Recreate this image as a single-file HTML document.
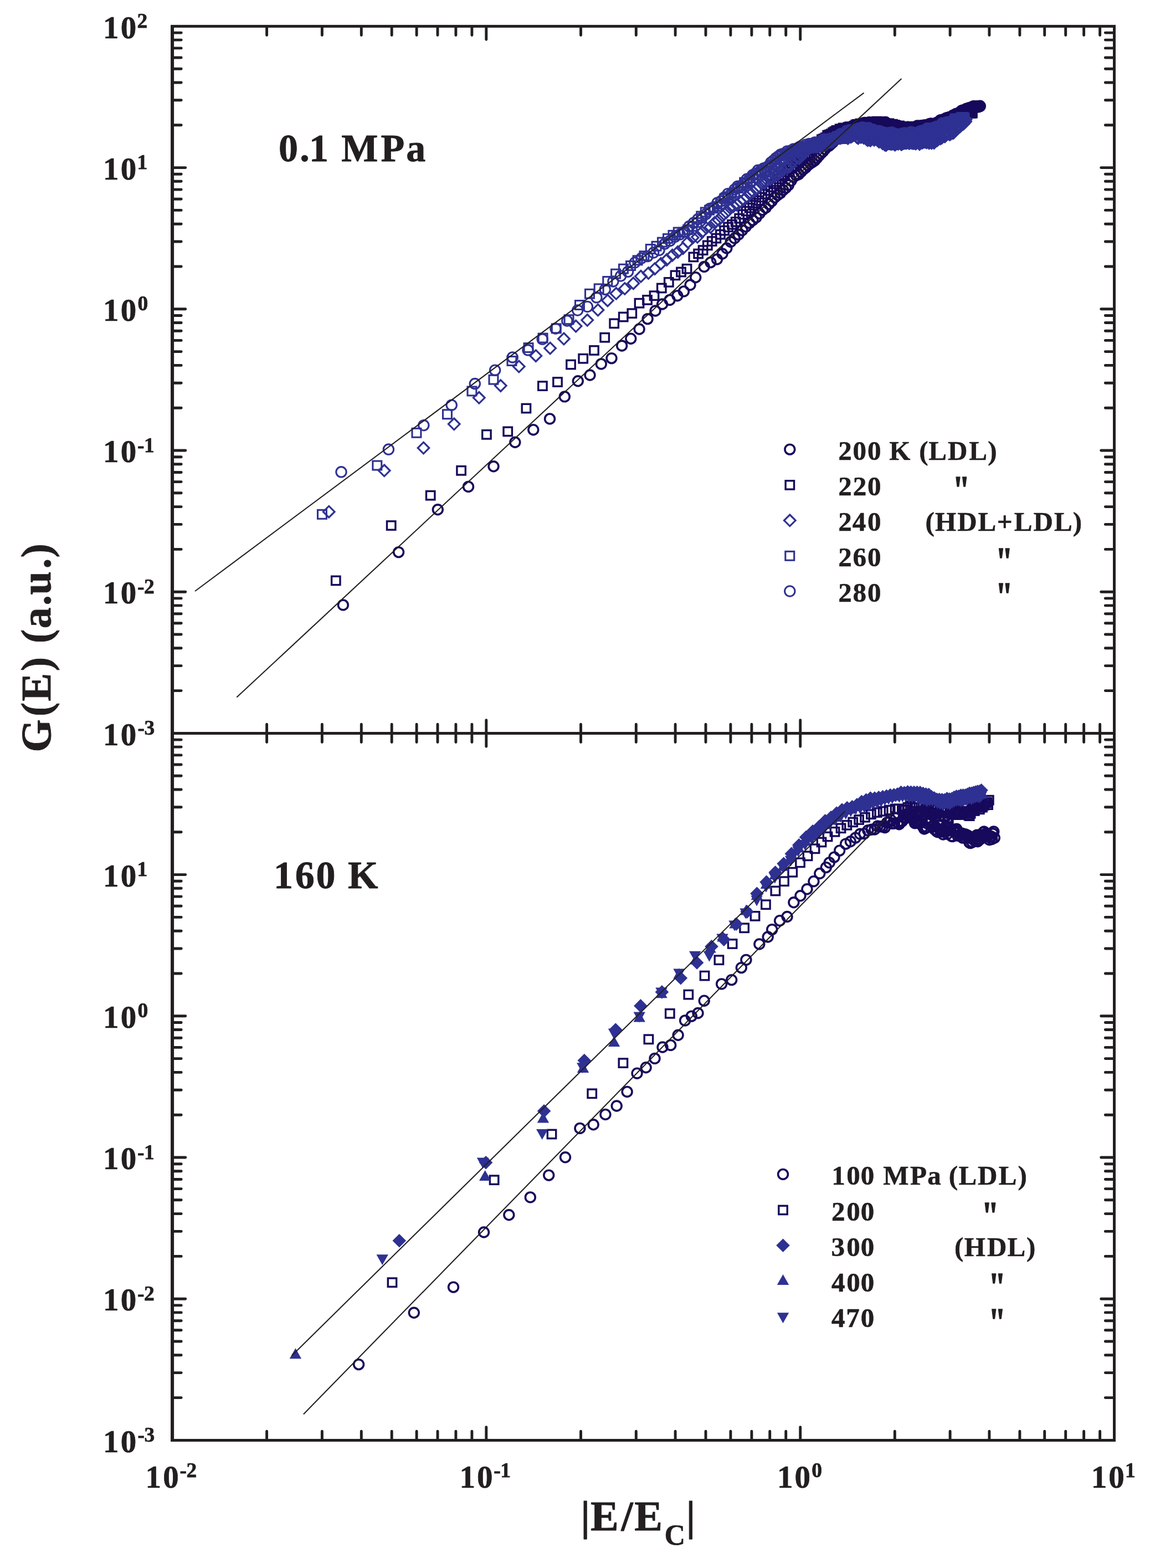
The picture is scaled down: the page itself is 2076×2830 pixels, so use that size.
<!DOCTYPE html>
<html lang="en"><head><meta charset="utf-8"><title>G(E) vs |E/Ec|</title>
<style>html,body{margin:0;padding:0;background:#fff}svg{display:block}text{font-family:'Liberation Serif',serif;font-weight:bold;fill:#231f20;stroke:#231f20;stroke-linejoin:round}</style></head><body>
<svg width="2076" height="2830" viewBox="0 0 2076 2830">
<rect width="2076" height="2830" fill="#fff"/>
<g id="series-top">
<g fill="none" stroke="#17095b" stroke-width="3.6">
<circle cx="619.4" cy="1091.9" r="8.9"/><circle cx="719.6" cy="996.6" r="8.9"/><circle cx="790.3" cy="919.8" r="8.9"/><circle cx="845.5" cy="878.4" r="8.9"/><circle cx="891" cy="841.8" r="8.9"/><circle cx="929.8" cy="798.2" r="8.9"/><circle cx="962.8" cy="775.7" r="8.9"/><circle cx="992.5" cy="755.9" r="8.9"/><circle cx="1019.3" cy="715.9" r="8.9"/><circle cx="1043.3" cy="687.8" r="8.9"/><circle cx="1065" cy="677" r="8.9"/><circle cx="1085.3" cy="656.9" r="8.9"/><circle cx="1104" cy="646.6" r="8.9"/><circle cx="1122.6" cy="624" r="8.9"/><circle cx="1138.8" cy="611.2" r="8.9"/><circle cx="1154.1" cy="594" r="8.9"/><circle cx="1169.1" cy="575.6" r="8.9"/><circle cx="1183" cy="561" r="8.9"/><circle cx="1195.6" cy="549" r="8.9"/><circle cx="1209" cy="541.4" r="8.9"/><circle cx="1222.8" cy="533.7" r="8.9"/><circle cx="1234.4" cy="525.9" r="8.9"/><circle cx="1246" cy="514.3" r="8.9"/><circle cx="1255.7" cy="500.7" r="8.9"/><circle cx="1271.2" cy="481.4" r="8.9"/><circle cx="1282.8" cy="473.6" r="8.9"/><circle cx="1294.4" cy="468" r="8.9"/><circle cx="1304" cy="458" r="8.9"/><circle cx="1311.8" cy="448" r="8.9"/><circle cx="1319.1" cy="436.5" r="8.9"/><circle cx="1326.2" cy="429.9" r="8.9"/><circle cx="1333.1" cy="423.5" r="8.9"/><circle cx="1339.9" cy="415.6" r="8.9"/><circle cx="1346.4" cy="409.1" r="8.9"/><circle cx="1352.8" cy="402.6" r="8.9"/><circle cx="1359" cy="397.5" r="8.9"/><circle cx="1365.1" cy="392.5" r="8.9"/><circle cx="1371" cy="385.4" r="8.9"/><circle cx="1376.8" cy="379" r="8.9"/><circle cx="1382.4" cy="375" r="8.9"/><circle cx="1387.9" cy="368.4" r="8.9"/><circle cx="1393.3" cy="363.1" r="8.9"/><circle cx="1398.6" cy="356.5" r="8.9"/><circle cx="1403.8" cy="352.2" r="8.9"/><circle cx="1408.8" cy="348.6" r="8.9"/><circle cx="1413.8" cy="343.1" r="8.9"/><circle cx="1418.6" cy="339.1" r="8.9"/><circle cx="1423.4" cy="334.1" r="8.9"/><circle cx="1428.1" cy="326.2" r="8.9"/><circle cx="1432.7" cy="319.5" r="8.9"/><circle cx="1437.2" cy="316.5" r="8.9"/><circle cx="1441.6" cy="314.7" r="8.9"/><circle cx="1446" cy="310.3" r="8.9"/><circle cx="1450.2" cy="306" r="8.9"/><circle cx="1454.4" cy="302.8" r="8.9"/><circle cx="1458.6" cy="298.3" r="8.9"/><circle cx="1462.6" cy="295.1" r="8.9"/><circle cx="1466.6" cy="292.6" r="8.9"/><circle cx="1470.6" cy="289.9" r="8.9"/><circle cx="1474.4" cy="285.7" r="8.9"/><circle cx="1478.2" cy="281.2" r="8.9"/><circle cx="1482" cy="276.9" r="8.9"/><circle cx="1485.7" cy="273.5" r="8.9"/><circle cx="1489.3" cy="269.3" r="8.9"/><circle cx="1492.9" cy="264.7" r="8.9"/><circle cx="1496.4" cy="263.4" r="8.9"/><circle cx="1499.9" cy="260.1" r="8.9"/><circle cx="1503.4" cy="257" r="8.9"/><circle cx="1506.8" cy="252.4" r="8.9"/><circle cx="1510.1" cy="251.1" r="8.9"/><circle cx="1513.4" cy="248.3" r="8.9"/><circle cx="1516.7" cy="243.4" r="8.9"/><circle cx="1519.9" cy="240.7" r="8.9"/><circle cx="1523" cy="239.4" r="8.9"/><circle cx="1526.2" cy="237.6" r="8.9"/><circle cx="1529.3" cy="236.3" r="8.9"/><circle cx="1532.3" cy="232.9" r="8.9"/><circle cx="1535.3" cy="231.4" r="8.9"/><circle cx="1538.3" cy="229.2" r="8.9"/><circle cx="1541.3" cy="227.3" r="8.9"/><circle cx="1544.2" cy="226.9" r="8.9"/><circle cx="1547" cy="227.4" r="8.9"/><circle cx="1549.9" cy="227.2" r="8.9"/><circle cx="1552.7" cy="225.7" r="8.9"/><circle cx="1555.5" cy="224.9" r="8.9"/><circle cx="1558.2" cy="222.3" r="8.9"/><circle cx="1560.9" cy="221.5" r="8.9"/><circle cx="1563.6" cy="222.6" r="8.9"/><circle cx="1566.3" cy="221.8" r="8.9"/><circle cx="1568.9" cy="220.6" r="8.9"/><circle cx="1571.5" cy="221.1" r="8.9"/><circle cx="1574.1" cy="221.8" r="8.9"/><circle cx="1576.6" cy="222" r="8.9"/><circle cx="1579.2" cy="221" r="8.9"/><circle cx="1581.7" cy="220.6" r="8.9"/><circle cx="1584.1" cy="220.6" r="8.9"/><circle cx="1586.6" cy="221.4" r="8.9"/><circle cx="1589" cy="221.2" r="8.9"/><circle cx="1591.4" cy="221.1" r="8.9"/><circle cx="1593.8" cy="221.7" r="8.9"/><circle cx="1596.1" cy="220.7" r="8.9"/><circle cx="1598.5" cy="220.5" r="8.9"/><circle cx="1600.8" cy="222.9" r="8.9"/><circle cx="1603" cy="225.3" r="8.9"/><circle cx="1605.3" cy="225.5" r="8.9"/><circle cx="1607.6" cy="225.1" r="8.9"/><circle cx="1609.8" cy="224.4" r="8.9"/><circle cx="1612" cy="225.5" r="8.9"/><circle cx="1614.2" cy="227.8" r="8.9"/><circle cx="1616.3" cy="228.5" r="8.9"/><circle cx="1618.5" cy="228.2" r="8.9"/><circle cx="1620.6" cy="229.4" r="8.9"/><circle cx="1622.7" cy="228" r="8.9"/><circle cx="1624.8" cy="228.5" r="8.9"/><circle cx="1626.9" cy="230.4" r="8.9"/><circle cx="1629" cy="230.3" r="8.9"/><circle cx="1631" cy="230" r="8.9"/><circle cx="1633" cy="229.4" r="8.9"/><circle cx="1635" cy="230.3" r="8.9"/><circle cx="1637" cy="232" r="8.9"/><circle cx="1639" cy="229.3" r="8.9"/><circle cx="1641" cy="230.6" r="8.9"/><circle cx="1642.9" cy="231.2" r="8.9"/><circle cx="1644.8" cy="231.7" r="8.9"/><circle cx="1646.7" cy="231.3" r="8.9"/><circle cx="1648.6" cy="231.2" r="8.9"/><circle cx="1650.5" cy="230.1" r="8.9"/><circle cx="1652.4" cy="229.6" r="8.9"/><circle cx="1654.3" cy="228.7" r="8.9"/><circle cx="1656.1" cy="227" r="8.9"/><circle cx="1657.9" cy="228.8" r="8.9"/><circle cx="1659.7" cy="228.5" r="8.9"/><circle cx="1661.5" cy="227" r="8.9"/><circle cx="1663.3" cy="227.1" r="8.9"/><circle cx="1665.1" cy="227" r="8.9"/><circle cx="1666.9" cy="226.4" r="8.9"/><circle cx="1668.6" cy="225.9" r="8.9"/><circle cx="1670.4" cy="226.2" r="8.9"/><circle cx="1672.1" cy="226.4" r="8.9"/><circle cx="1673.8" cy="226.4" r="8.9"/><circle cx="1675.5" cy="225.8" r="8.9"/><circle cx="1677.2" cy="223.9" r="8.9"/><circle cx="1678.9" cy="223.6" r="8.9"/><circle cx="1680.5" cy="222.9" r="8.9"/><circle cx="1682.2" cy="223.6" r="8.9"/><circle cx="1683.8" cy="224.5" r="8.9"/><circle cx="1685.5" cy="224.5" r="8.9"/><circle cx="1687.1" cy="224.2" r="8.9"/><circle cx="1688.7" cy="223.9" r="8.9"/><circle cx="1690.3" cy="221.7" r="8.9"/><circle cx="1691.9" cy="222.2" r="8.9"/><circle cx="1693.5" cy="221.6" r="8.9"/><circle cx="1695.1" cy="219.4" r="8.9"/><circle cx="1696.6" cy="217.8" r="8.9"/><circle cx="1698.2" cy="216.8" r="8.9"/><circle cx="1699.7" cy="218.2" r="8.9"/><circle cx="1701.3" cy="217" r="8.9"/><circle cx="1702.8" cy="215.7" r="8.9"/><circle cx="1704.3" cy="216.2" r="8.9"/><circle cx="1705.8" cy="215.4" r="8.9"/><circle cx="1707.3" cy="213.8" r="8.9"/><circle cx="1708.8" cy="213" r="8.9"/><circle cx="1710.3" cy="213.3" r="8.9"/><circle cx="1711.7" cy="212.2" r="8.9"/><circle cx="1713.2" cy="211.6" r="8.9"/><circle cx="1714.6" cy="212.2" r="8.9"/><circle cx="1716.1" cy="211.5" r="8.9"/><circle cx="1717.5" cy="210.4" r="8.9"/><circle cx="1718.9" cy="210" r="8.9"/><circle cx="1720.4" cy="208.3" r="8.9"/><circle cx="1721.8" cy="208.1" r="8.9"/><circle cx="1723.2" cy="207.8" r="8.9"/><circle cx="1724.6" cy="206.6" r="8.9"/><circle cx="1725.9" cy="205.4" r="8.9"/><circle cx="1727.3" cy="206.5" r="8.9"/><circle cx="1728.7" cy="205.7" r="8.9"/><circle cx="1730.1" cy="204.1" r="8.9"/><circle cx="1731.4" cy="203.9" r="8.9"/><circle cx="1732.8" cy="204" r="8.9"/><circle cx="1734.1" cy="201.7" r="8.9"/><circle cx="1735.4" cy="200.2" r="8.9"/><circle cx="1736.8" cy="199.4" r="8.9"/><circle cx="1738.1" cy="200" r="8.9"/><circle cx="1739.4" cy="198.6" r="8.9"/><circle cx="1740.7" cy="198.9" r="8.9"/><circle cx="1742" cy="198.6" r="8.9"/><circle cx="1743.3" cy="197.8" r="8.9"/><circle cx="1744.6" cy="196.2" r="8.9"/><circle cx="1745.8" cy="197.1" r="8.9"/><circle cx="1747.1" cy="197" r="8.9"/><circle cx="1748.4" cy="196.1" r="8.9"/><circle cx="1749.6" cy="194.8" r="8.9"/><circle cx="1750.9" cy="194.9" r="8.9"/><circle cx="1752.1" cy="194.2" r="8.9"/><circle cx="1753.4" cy="194.1" r="8.9"/><circle cx="1754.6" cy="193.3" r="8.9"/><circle cx="1755.8" cy="193.4" r="8.9"/><circle cx="1757.1" cy="191.9" r="8.9"/><circle cx="1758.3" cy="191.6" r="8.9"/><circle cx="1759.5" cy="192.7" r="8.9"/><circle cx="1760.7" cy="193.1" r="8.9"/><circle cx="1761.9" cy="192.1" r="8.9"/><circle cx="1763.1" cy="192.7" r="8.9"/><circle cx="1764.3" cy="191.8" r="8.9"/><circle cx="1765.4" cy="192.7" r="8.9"/><circle cx="1766.6" cy="192.7" r="8.9"/><circle cx="1767.8" cy="192" r="8.9"/><circle cx="1768.9" cy="191.2" r="8.9"/><circle cx="1769.3" cy="191.6" r="8.9"/>
</g>
<g fill="none" stroke="#17095b" stroke-width="3.4">
<rect x="598.6" y="1040.2" width="15.4" height="15.4"/><rect x="698.5" y="940.8" width="15.4" height="15.4"/><rect x="769.5" y="886.5" width="15.4" height="15.4"/><rect x="824.9" y="841.6" width="15.4" height="15.4"/><rect x="870.7" y="776.6" width="15.4" height="15.4"/><rect x="909" y="771.1" width="15.4" height="15.4"/><rect x="942.2" y="729.3" width="15.4" height="15.4"/><rect x="971.7" y="688.9" width="15.4" height="15.4"/><rect x="998.8" y="681.8" width="15.4" height="15.4"/><rect x="1022.8" y="650.3" width="15.4" height="15.4"/><rect x="1045" y="639.5" width="15.4" height="15.4"/><rect x="1064.8" y="624.7" width="15.4" height="15.4"/><rect x="1084" y="601.5" width="15.4" height="15.4"/><rect x="1101" y="576.1" width="15.4" height="15.4"/><rect x="1117.5" y="564.3" width="15.4" height="15.4"/><rect x="1133.1" y="557.9" width="15.4" height="15.4"/><rect x="1146.3" y="539.5" width="15.4" height="15.4"/><rect x="1160.8" y="533.7" width="15.4" height="15.4"/><rect x="1173.3" y="526" width="15.4" height="15.4"/><rect x="1186.6" y="512.3" width="15.4" height="15.4"/><rect x="1199.6" y="501.7" width="15.4" height="15.4"/><rect x="1211.3" y="489.2" width="15.4" height="15.4"/><rect x="1221.8" y="483.3" width="15.4" height="15.4"/><rect x="1232.3" y="477.5" width="15.4" height="15.4"/><rect x="1244.1" y="456.2" width="15.4" height="15.4"/><rect x="1252.9" y="450.3" width="15.4" height="15.4"/><rect x="1261.4" y="443.9" width="15.4" height="15.4"/><rect x="1269.6" y="435.2" width="15.4" height="15.4"/><rect x="1277.5" y="427.8" width="15.4" height="15.4"/><rect x="1285.2" y="422.4" width="15.4" height="15.4"/><rect x="1292.7" y="415.5" width="15.4" height="15.4"/><rect x="1299.9" y="408.4" width="15.4" height="15.4"/><rect x="1306.9" y="402.2" width="15.4" height="15.4"/><rect x="1313.8" y="397.6" width="15.4" height="15.4"/><rect x="1320.4" y="392.7" width="15.4" height="15.4"/><rect x="1326.9" y="386.5" width="15.4" height="15.4"/><rect x="1333.2" y="379.2" width="15.4" height="15.4"/><rect x="1339.3" y="373.4" width="15.4" height="15.4"/><rect x="1345.3" y="367.5" width="15.4" height="15.4"/><rect x="1351.2" y="362.7" width="15.4" height="15.4"/><rect x="1356.9" y="358.8" width="15.4" height="15.4"/><rect x="1362.5" y="354.3" width="15.4" height="15.4"/><rect x="1368" y="348.4" width="15.4" height="15.4"/><rect x="1373.3" y="342.7" width="15.4" height="15.4"/><rect x="1378.6" y="336.4" width="15.4" height="15.4"/><rect x="1383.7" y="329.9" width="15.4" height="15.4"/><rect x="1388.7" y="324.1" width="15.4" height="15.4"/><rect x="1393.6" y="320.1" width="15.4" height="15.4"/><rect x="1398.5" y="315.2" width="15.4" height="15.4"/><rect x="1403.2" y="310.6" width="15.4" height="15.4"/><rect x="1407.8" y="307.6" width="15.4" height="15.4"/><rect x="1412.4" y="302.7" width="15.4" height="15.4"/><rect x="1416.9" y="298.2" width="15.4" height="15.4"/><rect x="1421.3" y="292.7" width="15.4" height="15.4"/><rect x="1425.6" y="287.1" width="15.4" height="15.4"/><rect x="1429.8" y="283.2" width="15.4" height="15.4"/><rect x="1434" y="278.6" width="15.4" height="15.4"/><rect x="1438.1" y="275.5" width="15.4" height="15.4"/><rect x="1442.1" y="273.7" width="15.4" height="15.4"/><rect x="1446.1" y="269.7" width="15.4" height="15.4"/><rect x="1450" y="264.1" width="15.4" height="15.4"/><rect x="1453.9" y="262.2" width="15.4" height="15.4"/><rect x="1457.6" y="259.6" width="15.4" height="15.4"/><rect x="1461.4" y="256.7" width="15.4" height="15.4"/><rect x="1465" y="254.3" width="15.4" height="15.4"/><rect x="1468.7" y="251.2" width="15.4" height="15.4"/><rect x="1472.2" y="248.4" width="15.4" height="15.4"/><rect x="1475.7" y="244.1" width="15.4" height="15.4"/><rect x="1479.2" y="242.7" width="15.4" height="15.4"/><rect x="1482.6" y="240.8" width="15.4" height="15.4"/><rect x="1486" y="236.4" width="15.4" height="15.4"/><rect x="1489.3" y="235.5" width="15.4" height="15.4"/><rect x="1492.6" y="234" width="15.4" height="15.4"/><rect x="1495.8" y="231.5" width="15.4" height="15.4"/><rect x="1499" y="229.6" width="15.4" height="15.4"/><rect x="1502.2" y="227.7" width="15.4" height="15.4"/><rect x="1505.3" y="227.5" width="15.4" height="15.4"/><rect x="1508.4" y="225.1" width="15.4" height="15.4"/><rect x="1511.4" y="225.2" width="15.4" height="15.4"/><rect x="1514.4" y="223.2" width="15.4" height="15.4"/><rect x="1517.4" y="223.8" width="15.4" height="15.4"/><rect x="1520.3" y="223.8" width="15.4" height="15.4"/><rect x="1523.2" y="221.9" width="15.4" height="15.4"/><rect x="1526.1" y="221" width="15.4" height="15.4"/><rect x="1528.9" y="221.6" width="15.4" height="15.4"/><rect x="1531.7" y="220.9" width="15.4" height="15.4"/><rect x="1534.5" y="219.4" width="15.4" height="15.4"/><rect x="1537.2" y="217.4" width="15.4" height="15.4"/><rect x="1539.9" y="216.6" width="15.4" height="15.4"/><rect x="1542.6" y="217.3" width="15.4" height="15.4"/><rect x="1545.2" y="215.4" width="15.4" height="15.4"/><rect x="1547.9" y="217.1" width="15.4" height="15.4"/><rect x="1550.4" y="215.2" width="15.4" height="15.4"/><rect x="1553" y="216.6" width="15.4" height="15.4"/><rect x="1555.5" y="214.9" width="15.4" height="15.4"/><rect x="1558.1" y="216.4" width="15.4" height="15.4"/><rect x="1560.5" y="216.1" width="15.4" height="15.4"/><rect x="1563" y="215" width="15.4" height="15.4"/><rect x="1565.4" y="214.4" width="15.4" height="15.4"/><rect x="1567.9" y="214.5" width="15.4" height="15.4"/><rect x="1570.2" y="214.1" width="15.4" height="15.4"/><rect x="1572.6" y="212.8" width="15.4" height="15.4"/><rect x="1575" y="211.5" width="15.4" height="15.4"/><rect x="1577.3" y="212" width="15.4" height="15.4"/><rect x="1579.6" y="213.8" width="15.4" height="15.4"/><rect x="1581.9" y="213.9" width="15.4" height="15.4"/><rect x="1584.1" y="212.2" width="15.4" height="15.4"/><rect x="1586.4" y="214.5" width="15.4" height="15.4"/><rect x="1588.6" y="215.6" width="15.4" height="15.4"/><rect x="1590.8" y="217.2" width="15.4" height="15.4"/><rect x="1592.9" y="215.4" width="15.4" height="15.4"/><rect x="1595.1" y="216.9" width="15.4" height="15.4"/><rect x="1597.2" y="215.2" width="15.4" height="15.4"/><rect x="1599.4" y="217" width="15.4" height="15.4"/><rect x="1601.5" y="216.7" width="15.4" height="15.4"/><rect x="1603.6" y="216.5" width="15.4" height="15.4"/><rect x="1605.6" y="219.3" width="15.4" height="15.4"/><rect x="1607.7" y="217.8" width="15.4" height="15.4"/><rect x="1609.7" y="218.9" width="15.4" height="15.4"/><rect x="1611.7" y="221" width="15.4" height="15.4"/><rect x="1613.7" y="219.8" width="15.4" height="15.4"/><rect x="1615.7" y="219.3" width="15.4" height="15.4"/><rect x="1617.7" y="221.9" width="15.4" height="15.4"/><rect x="1619.6" y="221.6" width="15.4" height="15.4"/><rect x="1621.6" y="222.8" width="15.4" height="15.4"/><rect x="1623.5" y="220.8" width="15.4" height="15.4"/><rect x="1625.4" y="221.4" width="15.4" height="15.4"/><rect x="1627.3" y="221.1" width="15.4" height="15.4"/><rect x="1629.2" y="223" width="15.4" height="15.4"/><rect x="1631" y="221.3" width="15.4" height="15.4"/><rect x="1632.9" y="224.1" width="15.4" height="15.4"/><rect x="1634.7" y="221.5" width="15.4" height="15.4"/><rect x="1636.6" y="223.2" width="15.4" height="15.4"/><rect x="1638.4" y="221" width="15.4" height="15.4"/><rect x="1640.2" y="220.8" width="15.4" height="15.4"/><rect x="1641.9" y="223.1" width="15.4" height="15.4"/><rect x="1643.7" y="221.4" width="15.4" height="15.4"/><rect x="1645.5" y="220.6" width="15.4" height="15.4"/><rect x="1647.2" y="222.3" width="15.4" height="15.4"/><rect x="1649" y="221.9" width="15.4" height="15.4"/><rect x="1650.7" y="220.2" width="15.4" height="15.4"/><rect x="1652.4" y="223.2" width="15.4" height="15.4"/><rect x="1654.1" y="221.2" width="15.4" height="15.4"/><rect x="1655.8" y="219.6" width="15.4" height="15.4"/><rect x="1657.4" y="220" width="15.4" height="15.4"/><rect x="1659.1" y="221.2" width="15.4" height="15.4"/><rect x="1660.8" y="222.2" width="15.4" height="15.4"/><rect x="1662.4" y="220.1" width="15.4" height="15.4"/><rect x="1664" y="219.9" width="15.4" height="15.4"/><rect x="1665.6" y="218.5" width="15.4" height="15.4"/><rect x="1667.3" y="219.4" width="15.4" height="15.4"/><rect x="1668.9" y="221" width="15.4" height="15.4"/><rect x="1670.4" y="221.6" width="15.4" height="15.4"/><rect x="1672" y="222.4" width="15.4" height="15.4"/><rect x="1673.6" y="221.9" width="15.4" height="15.4"/><rect x="1675.1" y="221.8" width="15.4" height="15.4"/><rect x="1676.7" y="220.9" width="15.4" height="15.4"/><rect x="1678.2" y="219.4" width="15.4" height="15.4"/><rect x="1679.8" y="217.5" width="15.4" height="15.4"/><rect x="1681.3" y="217.9" width="15.4" height="15.4"/><rect x="1682.8" y="216.6" width="15.4" height="15.4"/><rect x="1684.3" y="215" width="15.4" height="15.4"/><rect x="1685.8" y="215.2" width="15.4" height="15.4"/><rect x="1687.3" y="216.6" width="15.4" height="15.4"/><rect x="1688.7" y="214.4" width="15.4" height="15.4"/><rect x="1690.2" y="214.8" width="15.4" height="15.4"/><rect x="1691.7" y="214" width="15.4" height="15.4"/><rect x="1693.1" y="213.8" width="15.4" height="15.4"/><rect x="1694.5" y="212.1" width="15.4" height="15.4"/><rect x="1696" y="213.8" width="15.4" height="15.4"/><rect x="1697.4" y="211.9" width="15.4" height="15.4"/><rect x="1698.8" y="211.9" width="15.4" height="15.4"/><rect x="1700.2" y="211" width="15.4" height="15.4"/><rect x="1701.6" y="208.9" width="15.4" height="15.4"/><rect x="1703" y="209.4" width="15.4" height="15.4"/><rect x="1704.4" y="208" width="15.4" height="15.4"/><rect x="1705.8" y="206.8" width="15.4" height="15.4"/><rect x="1707.1" y="205.8" width="15.4" height="15.4"/><rect x="1708.5" y="205.5" width="15.4" height="15.4"/><rect x="1709.8" y="204.9" width="15.4" height="15.4"/><rect x="1711.2" y="206.1" width="15.4" height="15.4"/><rect x="1712.5" y="206" width="15.4" height="15.4"/><rect x="1713.9" y="207.2" width="15.4" height="15.4"/><rect x="1715.2" y="207.4" width="15.4" height="15.4"/><rect x="1716.5" y="207.6" width="15.4" height="15.4"/><rect x="1717.8" y="205" width="15.4" height="15.4"/><rect x="1719.1" y="204.1" width="15.4" height="15.4"/><rect x="1720.4" y="202.9" width="15.4" height="15.4"/><rect x="1721.7" y="203.2" width="15.4" height="15.4"/><rect x="1723" y="203.2" width="15.4" height="15.4"/><rect x="1724.3" y="203.6" width="15.4" height="15.4"/><rect x="1725.5" y="203.2" width="15.4" height="15.4"/><rect x="1726.8" y="201.5" width="15.4" height="15.4"/><rect x="1728" y="200.9" width="15.4" height="15.4"/><rect x="1729.3" y="200.8" width="15.4" height="15.4"/><rect x="1730.5" y="198.9" width="15.4" height="15.4"/><rect x="1731.8" y="197.9" width="15.4" height="15.4"/><rect x="1733" y="198.3" width="15.4" height="15.4"/><rect x="1734.2" y="197.4" width="15.4" height="15.4"/><rect x="1735.4" y="198.6" width="15.4" height="15.4"/><rect x="1736.7" y="197.6" width="15.4" height="15.4"/><rect x="1737.9" y="196.6" width="15.4" height="15.4"/><rect x="1739.1" y="196.2" width="15.4" height="15.4"/><rect x="1740.3" y="196.1" width="15.4" height="15.4"/><rect x="1741.5" y="195.9" width="15.4" height="15.4"/><rect x="1742.6" y="196.5" width="15.4" height="15.4"/><rect x="1743.8" y="196.6" width="15.4" height="15.4"/><rect x="1745" y="196.1" width="15.4" height="15.4"/><rect x="1746.2" y="196.6" width="15.4" height="15.4"/><rect x="1747.3" y="195.6" width="15.4" height="15.4"/><rect x="1747.7" y="196.4" width="15.4" height="15.4"/>
</g>
<g fill="none" stroke="#2e3192" stroke-width="3.2">
<path d="M593.7 913.4L604 923.7L593.7 934L583.4 923.7Z"/><path d="M693.7 839L704 849.3L693.7 859.6L683.4 849.3Z"/><path d="M764.5 798.2L774.8 808.5L764.5 818.8L754.2 808.5Z"/><path d="M819.7 755L830 765.3L819.7 775.6L809.4 765.3Z"/><path d="M864.8 707.5L875.1 717.8L864.8 728.1L854.5 717.8Z"/><path d="M903.8 685.8L914.1 696.1L903.8 706.4L893.5 696.1Z"/><path d="M936.8 651.2L947.1 661.5L936.8 671.8L926.5 661.5Z"/><path d="M967.3 631.9L977.6 642.2L967.3 652.5L957 642.2Z"/><path d="M993.1 618.2L1003.4 628.5L993.1 638.8L982.8 628.5Z"/><path d="M1017.9 601.2L1028.2 611.5L1017.9 621.8L1007.6 611.5Z"/><path d="M1039.6 578.3L1049.9 588.6L1039.6 598.9L1029.3 588.6Z"/><path d="M1060.2 567.5L1070.5 577.8L1060.2 588.1L1049.9 577.8Z"/><path d="M1079.4 549.2L1089.7 559.5L1079.4 569.8L1069.1 559.5Z"/><path d="M1096.9 532.1L1107.2 542.4L1096.9 552.7L1086.6 542.4Z"/><path d="M1112.3 519.5L1122.6 529.8L1112.3 540.1L1102 529.8Z"/><path d="M1127.8 510.7L1138.1 521L1127.8 531.3L1117.5 521Z"/><path d="M1143.3 501.1L1153.6 511.4L1143.3 521.7L1133 511.4Z"/><path d="M1156.9 488.5L1167.2 498.8L1156.9 509.1L1146.6 498.8Z"/><path d="M1170.5 482.7L1180.8 493L1170.5 503.3L1160.2 493Z"/><path d="M1182 474.9L1192.3 485.2L1182 495.5L1171.7 485.2Z"/><path d="M1193.1 465.6L1203.4 475.9L1193.1 486.2L1182.8 475.9Z"/><path d="M1203.6 458.6L1213.9 468.9L1203.6 479.2L1193.3 468.9Z"/><path d="M1213.8 450.3L1224.1 460.6L1213.8 470.9L1203.5 460.6Z"/><path d="M1223.5 444.6L1233.8 454.9L1223.5 465.2L1213.2 454.9Z"/><path d="M1232.9 437.9L1243.2 448.2L1232.9 458.5L1222.6 448.2Z"/><path d="M1241.9 426.9L1252.2 437.2L1241.9 447.5L1231.6 437.2Z"/><path d="M1250.6 418.6L1260.9 428.9L1250.6 439.2L1240.3 428.9Z"/><path d="M1259 417.5L1269.3 427.8L1259 438.1L1248.7 427.8Z"/><path d="M1267.2 408.5L1277.5 418.8L1267.2 429.1L1256.9 418.8Z"/><path d="M1275 401.1L1285.3 411.4L1275 421.7L1264.7 411.4Z"/><path d="M1282.7 399.8L1293 410.1L1282.7 420.4L1272.4 410.1Z"/><path d="M1290.1 391.4L1300.4 401.7L1290.1 412L1279.8 401.7Z"/><path d="M1297.2 386.9L1307.5 397.2L1297.2 407.5L1286.9 397.2Z"/><path d="M1304.2 378.9L1314.5 389.2L1304.2 399.5L1293.9 389.2Z"/><path d="M1311 373.5L1321.3 383.8L1311 394.1L1300.7 383.8Z"/><path d="M1317.6 364.6L1327.9 374.9L1317.6 385.2L1307.3 374.9Z"/><path d="M1324 362.1L1334.3 372.4L1324 382.7L1313.7 372.4Z"/><path d="M1330.3 359.6L1340.6 369.9L1330.3 380.2L1320 369.9Z"/><path d="M1336.4 353.4L1346.7 363.7L1336.4 374L1326.1 363.7Z"/><path d="M1342.4 349.9L1352.7 360.2L1342.4 370.5L1332.1 360.2Z"/><path d="M1348.2 345.3L1358.5 355.6L1348.2 365.9L1337.9 355.6Z"/><path d="M1353.9 337.2L1364.2 347.5L1353.9 357.8L1343.6 347.5Z"/><path d="M1359.5 336.1L1369.8 346.4L1359.5 356.7L1349.2 346.4Z"/><path d="M1364.9 331.8L1375.2 342.1L1364.9 352.4L1354.6 342.1Z"/><path d="M1370.2 325.9L1380.5 336.2L1370.2 346.5L1359.9 336.2Z"/><path d="M1375.4 319.7L1385.7 330L1375.4 340.3L1365.1 330Z"/><path d="M1380.5 320.2L1390.8 330.5L1380.5 340.8L1370.2 330.5Z"/><path d="M1385.5 315.2L1395.8 325.5L1385.5 335.8L1375.2 325.5Z"/><path d="M1390.4 312.6L1400.7 322.9L1390.4 333.2L1380.1 322.9Z"/><path d="M1395.2 310.2L1405.5 320.5L1395.2 330.8L1384.9 320.5Z"/><path d="M1399.9 306.4L1410.2 316.7L1399.9 327L1389.6 316.7Z"/><path d="M1404.6 304.3L1414.9 314.6L1404.6 324.9L1394.3 314.6Z"/><path d="M1409.1 298.4L1419.4 308.7L1409.1 319L1398.8 308.7Z"/><path d="M1413.5 296.9L1423.8 307.2L1413.5 317.5L1403.2 307.2Z"/><path d="M1417.9 292.3L1428.2 302.6L1417.9 312.9L1407.6 302.6Z"/><path d="M1422.2 291.8L1432.5 302.1L1422.2 312.4L1411.9 302.1Z"/><path d="M1426.4 289.3L1436.7 299.6L1426.4 309.9L1416.1 299.6Z"/><path d="M1430.6 282L1440.9 292.3L1430.6 302.6L1420.3 292.3Z"/><path d="M1434.7 277.9L1445 288.2L1434.7 298.5L1424.4 288.2Z"/><path d="M1438.7 274.6L1449 284.9L1438.7 295.2L1428.4 284.9Z"/><path d="M1442.6 275.7L1452.9 286L1442.6 296.3L1432.3 286Z"/><path d="M1446.5 270.6L1456.8 280.9L1446.5 291.2L1436.2 280.9Z"/><path d="M1450.4 267.9L1460.7 278.2L1450.4 288.5L1440.1 278.2Z"/><path d="M1454.1 262.9L1464.4 273.2L1454.1 283.5L1443.8 273.2Z"/><path d="M1457.9 260.4L1468.2 270.7L1457.9 281L1447.6 270.7Z"/><path d="M1461.5 256.8L1471.8 267.1L1461.5 277.4L1451.2 267.1Z"/><path d="M1465.1 255.1L1475.4 265.4L1465.1 275.7L1454.8 265.4Z"/><path d="M1468.7 255.1L1479 265.4L1468.7 275.7L1458.4 265.4Z"/><path d="M1472.2 254.3L1482.5 264.6L1472.2 274.9L1461.9 264.6Z"/><path d="M1475.6 255.1L1485.9 265.4L1475.6 275.7L1465.3 265.4Z"/><path d="M1479 253.3L1489.3 263.6L1479 273.9L1468.7 263.6Z"/><path d="M1482.4 253.3L1492.7 263.6L1482.4 273.9L1472.1 263.6Z"/><path d="M1485.7 252.2L1496 262.5L1485.7 272.8L1475.4 262.5Z"/><path d="M1489 251.8L1499.3 262.1L1489 272.4L1478.7 262.1Z"/><path d="M1492.2 249.1L1502.5 259.4L1492.2 269.7L1481.9 259.4Z"/><path d="M1495.4 244.5L1505.7 254.8L1495.4 265.1L1485.1 254.8Z"/><path d="M1498.5 246.1L1508.8 256.4L1498.5 266.7L1488.2 256.4Z"/><path d="M1501.6 245.9L1511.9 256.2L1501.6 266.5L1491.3 256.2Z"/><path d="M1504.7 244.3L1515 254.6L1504.7 264.9L1494.4 254.6Z"/><path d="M1507.7 240.7L1518 251L1507.7 261.3L1497.4 251Z"/><path d="M1510.7 239.8L1521 250.1L1510.7 260.4L1500.4 250.1Z"/><path d="M1513.7 236.6L1524 246.9L1513.7 257.2L1503.4 246.9Z"/><path d="M1516.6 239.1L1526.9 249.4L1516.6 259.7L1506.3 249.4Z"/><path d="M1519.5 238.1L1529.8 248.4L1519.5 258.7L1509.2 248.4Z"/><path d="M1522.4 236L1532.7 246.3L1522.4 256.6L1512.1 246.3Z"/><path d="M1525.2 233.8L1535.5 244.1L1525.2 254.4L1514.9 244.1Z"/><path d="M1528 237.6L1538.3 247.9L1528 258.2L1517.7 247.9Z"/><path d="M1530.7 239.4L1541 249.7L1530.7 260L1520.4 249.7Z"/><path d="M1533.4 234.4L1543.7 244.7L1533.4 255L1523.1 244.7Z"/><path d="M1536.1 236.9L1546.4 247.2L1536.1 257.5L1525.8 247.2Z"/><path d="M1538.8 235.2L1549.1 245.5L1538.8 255.8L1528.5 245.5Z"/><path d="M1541.4 233.3L1551.7 243.6L1541.4 253.9L1531.1 243.6Z"/><path d="M1544.1 234L1554.4 244.3L1544.1 254.6L1533.8 244.3Z"/><path d="M1546.6 237.3L1556.9 247.6L1546.6 257.9L1536.3 247.6Z"/><path d="M1549.2 239.1L1559.5 249.4L1549.2 259.7L1538.9 249.4Z"/><path d="M1551.7 235.1L1562 245.4L1551.7 255.7L1541.4 245.4Z"/><path d="M1554.2 237.5L1564.5 247.8L1554.2 258.1L1543.9 247.8Z"/><path d="M1556.7 235.2L1567 245.5L1556.7 255.8L1546.4 245.5Z"/><path d="M1559.2 238.7L1569.5 249L1559.2 259.3L1548.9 249Z"/><path d="M1561.6 237.8L1571.9 248.1L1561.6 258.4L1551.3 248.1Z"/><path d="M1564 241L1574.3 251.3L1564 261.6L1553.7 251.3Z"/><path d="M1566.4 242.8L1576.7 253.1L1566.4 263.4L1556.1 253.1Z"/><path d="M1568.8 240.8L1579.1 251.1L1568.8 261.4L1558.5 251.1Z"/><path d="M1571.1 243.5L1581.4 253.8L1571.1 264.1L1560.8 253.8Z"/><path d="M1573.4 240.8L1583.7 251.1L1573.4 261.4L1563.1 251.1Z"/><path d="M1575.7 239.2L1586 249.5L1575.7 259.8L1565.4 249.5Z"/><path d="M1578 242.3L1588.3 252.6L1578 262.9L1567.7 252.6Z"/><path d="M1580.2 240.4L1590.5 250.7L1580.2 261L1569.9 250.7Z"/><path d="M1582.5 241.3L1592.8 251.6L1582.5 261.9L1572.2 251.6Z"/><path d="M1584.7 243.4L1595 253.7L1584.7 264L1574.4 253.7Z"/><path d="M1586.9 245.7L1597.2 256L1586.9 266.3L1576.6 256Z"/><path d="M1589 244.2L1599.3 254.5L1589 264.8L1578.7 254.5Z"/><path d="M1591.2 243.6L1601.5 253.9L1591.2 264.2L1580.9 253.9Z"/><path d="M1593.3 248.7L1603.6 259L1593.3 269.3L1583 259Z"/><path d="M1595.4 247.5L1605.7 257.8L1595.4 268.1L1585.1 257.8Z"/><path d="M1597.5 251.2L1607.8 261.5L1597.5 271.8L1587.2 261.5Z"/><path d="M1599.6 251.7L1609.9 262L1599.6 272.3L1589.3 262Z"/><path d="M1601.7 248.8L1612 259.1L1601.7 269.4L1591.4 259.1Z"/><path d="M1603.7 248.4L1614 258.7L1603.7 269L1593.4 258.7Z"/><path d="M1605.8 248.6L1616.1 258.9L1605.8 269.2L1595.5 258.9Z"/><path d="M1607.8 249.4L1618.1 259.7L1607.8 270L1597.5 259.7Z"/><path d="M1609.8 249.3L1620.1 259.6L1609.8 269.9L1599.5 259.6Z"/><path d="M1611.8 249L1622.1 259.3L1611.8 269.6L1601.5 259.3Z"/><path d="M1613.7 249.3L1624 259.6L1613.7 269.9L1603.4 259.6Z"/><path d="M1615.7 251.2L1626 261.5L1615.7 271.8L1605.4 261.5Z"/><path d="M1617.6 249.2L1627.9 259.5L1617.6 269.8L1607.3 259.5Z"/><path d="M1619.5 248.1L1629.8 258.4L1619.5 268.7L1609.2 258.4Z"/><path d="M1621.4 249.5L1631.7 259.8L1621.4 270.1L1611.1 259.8Z"/><path d="M1623.3 247L1633.6 257.3L1623.3 267.6L1613 257.3Z"/><path d="M1625.2 246.6L1635.5 256.9L1625.2 267.2L1614.9 256.9Z"/><path d="M1627.1 250.4L1637.4 260.7L1627.1 271L1616.8 260.7Z"/><path d="M1628.9 248.8L1639.2 259.1L1628.9 269.4L1618.6 259.1Z"/><path d="M1630.7 248.5L1641 258.8L1630.7 269.1L1620.4 258.8Z"/><path d="M1632.6 245.2L1642.9 255.5L1632.6 265.8L1622.3 255.5Z"/><path d="M1634.4 246.5L1644.7 256.8L1634.4 267.1L1624.1 256.8Z"/><path d="M1636.2 247.9L1646.5 258.2L1636.2 268.5L1625.9 258.2Z"/><path d="M1637.9 244.9L1648.2 255.2L1637.9 265.5L1627.6 255.2Z"/><path d="M1639.7 247.5L1650 257.8L1639.7 268.1L1629.4 257.8Z"/><path d="M1641.5 248.3L1651.8 258.6L1641.5 268.9L1631.2 258.6Z"/><path d="M1643.2 245.2L1653.5 255.5L1643.2 265.8L1632.9 255.5Z"/><path d="M1644.9 247.5L1655.2 257.8L1644.9 268.1L1634.6 257.8Z"/><path d="M1646.7 247.3L1657 257.6L1646.7 267.9L1636.4 257.6Z"/><path d="M1648.4 248.4L1658.7 258.7L1648.4 269L1638.1 258.7Z"/><path d="M1650.1 246.8L1660.4 257.1L1650.1 267.4L1639.8 257.1Z"/><path d="M1651.7 248.3L1662 258.6L1651.7 268.9L1641.4 258.6Z"/><path d="M1653.4 249L1663.7 259.3L1653.4 269.6L1643.1 259.3Z"/><path d="M1655.1 244.9L1665.4 255.2L1655.1 265.5L1644.8 255.2Z"/><path d="M1656.7 243.9L1667 254.2L1656.7 264.5L1646.4 254.2Z"/><path d="M1658.4 247.1L1668.7 257.4L1658.4 267.7L1648.1 257.4Z"/><path d="M1660 249.8L1670.3 260.1L1660 270.4L1649.7 260.1Z"/><path d="M1661.6 246.4L1671.9 256.7L1661.6 267L1651.3 256.7Z"/><path d="M1663.2 246.5L1673.5 256.8L1663.2 267.1L1652.9 256.8Z"/><path d="M1664.8 247.3L1675.1 257.6L1664.8 267.9L1654.5 257.6Z"/><path d="M1666.4 246L1676.7 256.3L1666.4 266.6L1656.1 256.3Z"/><path d="M1668 245.8L1678.3 256.1L1668 266.4L1657.7 256.1Z"/><path d="M1669.5 245.4L1679.8 255.7L1669.5 266L1659.2 255.7Z"/><path d="M1671.1 245.6L1681.4 255.9L1671.1 266.2L1660.8 255.9Z"/><path d="M1672.6 246.9L1682.9 257.2L1672.6 267.5L1662.3 257.2Z"/><path d="M1674.2 245.6L1684.5 255.9L1674.2 266.2L1663.9 255.9Z"/><path d="M1675.7 245.6L1686 255.9L1675.7 266.2L1665.4 255.9Z"/><path d="M1677.2 247.9L1687.5 258.2L1677.2 268.5L1666.9 258.2Z"/><path d="M1678.7 244.2L1689 254.5L1678.7 264.8L1668.4 254.5Z"/><path d="M1680.2 246.2L1690.5 256.5L1680.2 266.8L1669.9 256.5Z"/><path d="M1681.7 247.8L1692 258.1L1681.7 268.4L1671.4 258.1Z"/><path d="M1683.2 245.7L1693.5 256L1683.2 266.3L1672.9 256Z"/><path d="M1684.7 244.6L1695 254.9L1684.7 265.2L1674.4 254.9Z"/><path d="M1686.1 247.6L1696.4 257.9L1686.1 268.2L1675.8 257.9Z"/><path d="M1687.6 244.3L1697.9 254.6L1687.6 264.9L1677.3 254.6Z"/><path d="M1689 242.2L1699.3 252.5L1689 262.8L1678.7 252.5Z"/><path d="M1690.5 242.3L1700.8 252.6L1690.5 262.9L1680.2 252.6Z"/><path d="M1691.9 243.2L1702.2 253.5L1691.9 263.8L1681.6 253.5Z"/><path d="M1693.3 239.3L1703.6 249.6L1693.3 259.9L1683 249.6Z"/><path d="M1694.7 238.7L1705 249L1694.7 259.3L1684.4 249Z"/><path d="M1696.1 237.9L1706.4 248.2L1696.1 258.5L1685.8 248.2Z"/><path d="M1697.5 239.9L1707.8 250.2L1697.5 260.5L1687.2 250.2Z"/><path d="M1698.9 237.4L1709.2 247.7L1698.9 258L1688.6 247.7Z"/><path d="M1700.3 238.5L1710.6 248.8L1700.3 259.1L1690 248.8Z"/><path d="M1701.7 234.1L1712 244.4L1701.7 254.7L1691.4 244.4Z"/><path d="M1703 233.5L1713.3 243.8L1703 254.1L1692.7 243.8Z"/><path d="M1704.4 234.8L1714.7 245.1L1704.4 255.4L1694.1 245.1Z"/><path d="M1705.7 236.2L1716 246.5L1705.7 256.8L1695.4 246.5Z"/><path d="M1707.1 233.7L1717.4 244L1707.1 254.3L1696.8 244Z"/><path d="M1708.4 231.2L1718.7 241.5L1708.4 251.8L1698.1 241.5Z"/><path d="M1709.7 229.5L1720 239.8L1709.7 250.1L1699.4 239.8Z"/><path d="M1711.1 231L1721.4 241.3L1711.1 251.6L1700.8 241.3Z"/><path d="M1712.4 229.1L1722.7 239.4L1712.4 249.7L1702.1 239.4Z"/><path d="M1713.7 231.8L1724 242.1L1713.7 252.4L1703.4 242.1Z"/><path d="M1715 232.5L1725.3 242.8L1715 253.1L1704.7 242.8Z"/><path d="M1716.3 228.4L1726.6 238.7L1716.3 249L1706 238.7Z"/><path d="M1717.6 227.4L1727.9 237.7L1717.6 248L1707.3 237.7Z"/><path d="M1718.8 229.9L1729.1 240.2L1718.8 250.5L1708.5 240.2Z"/><path d="M1720.1 229.3L1730.4 239.6L1720.1 249.9L1709.8 239.6Z"/><path d="M1721.4 229.5L1731.7 239.8L1721.4 250.1L1711.1 239.8Z"/><path d="M1722.6 225.8L1732.9 236.1L1722.6 246.4L1712.3 236.1Z"/><path d="M1723.9 222.6L1734.2 232.9L1723.9 243.2L1713.6 232.9Z"/><path d="M1725.2 221.8L1735.5 232.1L1725.2 242.4L1714.9 232.1Z"/><path d="M1726.4 223.6L1736.7 233.9L1726.4 244.2L1716.1 233.9Z"/><path d="M1727.6 220.2L1737.9 230.5L1727.6 240.8L1717.3 230.5Z"/><path d="M1728.9 218.8L1739.2 229.1L1728.9 239.4L1718.6 229.1Z"/><path d="M1730.1 218L1740.4 228.3L1730.1 238.6L1719.8 228.3Z"/><path d="M1731.3 216.9L1741.6 227.2L1731.3 237.5L1721 227.2Z"/><path d="M1732.5 215.7L1742.8 226L1732.5 236.3L1722.2 226Z"/><path d="M1733.7 217.6L1744 227.9L1733.7 238.2L1723.4 227.9Z"/><path d="M1734.9 212.8L1745.2 223.1L1734.9 233.4L1724.6 223.1Z"/><path d="M1736.1 209.7L1746.4 220L1736.1 230.3L1725.8 220Z"/><path d="M1737.3 213.4L1747.6 223.7L1737.3 234L1727 223.7Z"/><path d="M1738.5 213.3L1748.8 223.6L1738.5 233.9L1728.2 223.6Z"/><path d="M1739.7 213L1750 223.3L1739.7 233.6L1729.4 223.3Z"/><path d="M1740.8 208.8L1751.1 219.1L1740.8 229.4L1730.5 219.1Z"/><path d="M1742 209.7L1752.3 220L1742 230.3L1731.7 220Z"/><path d="M1743.1 209L1753.4 219.3L1743.1 229.6L1732.8 219.3Z"/><path d="M1743.6 205.2L1753.9 215.5L1743.6 225.8L1733.3 215.5Z"/>
</g>
<g fill="none" stroke="#2e3192" stroke-width="3.1">
<rect x="573.5" y="920.4" width="15.9" height="15.9"/><rect x="672.9" y="832.1" width="15.9" height="15.9"/><rect x="744" y="773.3" width="15.9" height="15.9"/><rect x="799.5" y="739.8" width="15.9" height="15.9"/><rect x="844" y="698" width="15.9" height="15.9"/><rect x="883" y="677.2" width="15.9" height="15.9"/><rect x="916" y="643.5" width="15.9" height="15.9"/><rect x="946.1" y="619.6" width="15.9" height="15.9"/><rect x="972.1" y="602.1" width="15.9" height="15.9"/><rect x="996.3" y="584.9" width="15.9" height="15.9"/><rect x="1019.1" y="568.8" width="15.9" height="15.9"/><rect x="1038.5" y="542.6" width="15.9" height="15.9"/><rect x="1056.5" y="522.3" width="15.9" height="15.9"/><rect x="1073.2" y="512.9" width="15.9" height="15.9"/><rect x="1088.8" y="499.6" width="15.9" height="15.9"/><rect x="1103.6" y="486.2" width="15.9" height="15.9"/><rect x="1117.5" y="477.2" width="15.9" height="15.9"/><rect x="1130.6" y="471.6" width="15.9" height="15.9"/><rect x="1143.1" y="461.9" width="15.9" height="15.9"/><rect x="1155" y="453.8" width="15.9" height="15.9"/><rect x="1166.3" y="441.5" width="15.9" height="15.9"/><rect x="1177.1" y="436.3" width="15.9" height="15.9"/><rect x="1187.5" y="429.2" width="15.9" height="15.9"/><rect x="1197.5" y="422.6" width="15.9" height="15.9"/><rect x="1207" y="416.5" width="15.9" height="15.9"/><rect x="1216.3" y="411.1" width="15.9" height="15.9"/><rect x="1225.1" y="411.3" width="15.9" height="15.9"/><rect x="1233.7" y="406.6" width="15.9" height="15.9"/><rect x="1242" y="400.8" width="15.9" height="15.9"/><rect x="1250" y="393.7" width="15.9" height="15.9"/><rect x="1257.8" y="382.1" width="15.9" height="15.9"/><rect x="1265.3" y="375" width="15.9" height="15.9"/><rect x="1272.6" y="371.2" width="15.9" height="15.9"/><rect x="1279.7" y="368" width="15.9" height="15.9"/><rect x="1286.6" y="364.7" width="15.9" height="15.9"/><rect x="1293.3" y="360.8" width="15.9" height="15.9"/><rect x="1299.8" y="350.6" width="15.9" height="15.9"/><rect x="1306.1" y="348.5" width="15.9" height="15.9"/><rect x="1312.3" y="345.1" width="15.9" height="15.9"/><rect x="1318.4" y="339.2" width="15.9" height="15.9"/><rect x="1324.3" y="331.6" width="15.9" height="15.9"/><rect x="1330.1" y="328.2" width="15.9" height="15.9"/><rect x="1335.7" y="321.2" width="15.9" height="15.9"/><rect x="1341.2" y="322.1" width="15.9" height="15.9"/><rect x="1346.6" y="318.7" width="15.9" height="15.9"/><rect x="1351.8" y="313.2" width="15.9" height="15.9"/><rect x="1357" y="307.6" width="15.9" height="15.9"/><rect x="1362.1" y="308.1" width="15.9" height="15.9"/><rect x="1367" y="303.7" width="15.9" height="15.9"/><rect x="1371.9" y="302.5" width="15.9" height="15.9"/><rect x="1376.6" y="299.8" width="15.9" height="15.9"/><rect x="1381.3" y="294.7" width="15.9" height="15.9"/><rect x="1385.9" y="290.5" width="15.9" height="15.9"/><rect x="1390.4" y="288.7" width="15.9" height="15.9"/><rect x="1394.8" y="285.3" width="15.9" height="15.9"/><rect x="1399.1" y="280.7" width="15.9" height="15.9"/><rect x="1403.4" y="278.6" width="15.9" height="15.9"/><rect x="1407.6" y="279.7" width="15.9" height="15.9"/><rect x="1411.7" y="273.2" width="15.9" height="15.9"/><rect x="1415.8" y="269.6" width="15.9" height="15.9"/><rect x="1419.7" y="270.9" width="15.9" height="15.9"/><rect x="1423.7" y="267.3" width="15.9" height="15.9"/><rect x="1427.5" y="266.4" width="15.9" height="15.9"/><rect x="1431.3" y="264.2" width="15.9" height="15.9"/><rect x="1435.1" y="262" width="15.9" height="15.9"/><rect x="1438.8" y="265.1" width="15.9" height="15.9"/><rect x="1442.4" y="259.8" width="15.9" height="15.9"/><rect x="1446" y="259" width="15.9" height="15.9"/><rect x="1449.5" y="256.6" width="15.9" height="15.9"/><rect x="1453" y="258" width="15.9" height="15.9"/><rect x="1456.4" y="255.3" width="15.9" height="15.9"/><rect x="1459.8" y="254.4" width="15.9" height="15.9"/><rect x="1463.2" y="256" width="15.9" height="15.9"/><rect x="1466.4" y="253" width="15.9" height="15.9"/><rect x="1469.7" y="253" width="15.9" height="15.9"/><rect x="1472.9" y="254.6" width="15.9" height="15.9"/><rect x="1476.1" y="249.1" width="15.9" height="15.9"/><rect x="1479.2" y="246.4" width="15.9" height="15.9"/><rect x="1482.3" y="245.9" width="15.9" height="15.9"/><rect x="1485.3" y="248.6" width="15.9" height="15.9"/><rect x="1488.4" y="247.7" width="15.9" height="15.9"/><rect x="1491.3" y="244.2" width="15.9" height="15.9"/><rect x="1494.3" y="243.1" width="15.9" height="15.9"/><rect x="1497.2" y="241" width="15.9" height="15.9"/><rect x="1500" y="241.6" width="15.9" height="15.9"/><rect x="1502.9" y="238.3" width="15.9" height="15.9"/><rect x="1505.7" y="241" width="15.9" height="15.9"/><rect x="1508.5" y="242.4" width="15.9" height="15.9"/><rect x="1511.2" y="242.5" width="15.9" height="15.9"/><rect x="1513.9" y="240.5" width="15.9" height="15.9"/><rect x="1516.6" y="240.7" width="15.9" height="15.9"/><rect x="1519.3" y="234" width="15.9" height="15.9"/><rect x="1521.9" y="233.6" width="15.9" height="15.9"/><rect x="1524.5" y="237.5" width="15.9" height="15.9"/><rect x="1527.1" y="237.1" width="15.9" height="15.9"/><rect x="1529.6" y="234.3" width="15.9" height="15.9"/><rect x="1532.1" y="236.6" width="15.9" height="15.9"/><rect x="1534.6" y="234.9" width="15.9" height="15.9"/><rect x="1537.1" y="235.3" width="15.9" height="15.9"/><rect x="1539.5" y="231.8" width="15.9" height="15.9"/><rect x="1541.9" y="230.1" width="15.9" height="15.9"/><rect x="1544.3" y="231.7" width="15.9" height="15.9"/><rect x="1546.7" y="230.5" width="15.9" height="15.9"/><rect x="1549.1" y="232" width="15.9" height="15.9"/><rect x="1551.4" y="236.5" width="15.9" height="15.9"/><rect x="1553.7" y="234.1" width="15.9" height="15.9"/><rect x="1556" y="231.6" width="15.9" height="15.9"/><rect x="1558.3" y="231.3" width="15.9" height="15.9"/><rect x="1560.5" y="232.4" width="15.9" height="15.9"/><rect x="1562.7" y="236.9" width="15.9" height="15.9"/><rect x="1564.9" y="236.4" width="15.9" height="15.9"/><rect x="1567.1" y="236.5" width="15.9" height="15.9"/><rect x="1569.3" y="236" width="15.9" height="15.9"/><rect x="1571.4" y="242.2" width="15.9" height="15.9"/><rect x="1573.5" y="241.2" width="15.9" height="15.9"/><rect x="1575.7" y="240.2" width="15.9" height="15.9"/><rect x="1577.7" y="239.6" width="15.9" height="15.9"/><rect x="1579.8" y="240.1" width="15.9" height="15.9"/><rect x="1581.9" y="241.6" width="15.9" height="15.9"/><rect x="1583.9" y="245.9" width="15.9" height="15.9"/><rect x="1585.9" y="244.2" width="15.9" height="15.9"/><rect x="1587.9" y="243.3" width="15.9" height="15.9"/><rect x="1589.9" y="246.2" width="15.9" height="15.9"/><rect x="1591.9" y="245.8" width="15.9" height="15.9"/><rect x="1593.9" y="250.7" width="15.9" height="15.9"/><rect x="1595.8" y="247" width="15.9" height="15.9"/><rect x="1597.7" y="248.8" width="15.9" height="15.9"/><rect x="1599.6" y="251.1" width="15.9" height="15.9"/><rect x="1601.5" y="249.9" width="15.9" height="15.9"/><rect x="1603.4" y="253.4" width="15.9" height="15.9"/><rect x="1605.3" y="251.6" width="15.9" height="15.9"/><rect x="1607.2" y="249.6" width="15.9" height="15.9"/><rect x="1609" y="249.8" width="15.9" height="15.9"/><rect x="1610.8" y="247.5" width="15.9" height="15.9"/><rect x="1612.6" y="249" width="15.9" height="15.9"/><rect x="1614.4" y="248.3" width="15.9" height="15.9"/><rect x="1616.2" y="252" width="15.9" height="15.9"/><rect x="1618" y="252.6" width="15.9" height="15.9"/><rect x="1619.8" y="250.6" width="15.9" height="15.9"/><rect x="1621.5" y="247" width="15.9" height="15.9"/><rect x="1623.2" y="247.2" width="15.9" height="15.9"/><rect x="1625" y="247" width="15.9" height="15.9"/><rect x="1626.7" y="246.7" width="15.9" height="15.9"/><rect x="1628.4" y="246.5" width="15.9" height="15.9"/><rect x="1630.1" y="250" width="15.9" height="15.9"/><rect x="1631.7" y="246.1" width="15.9" height="15.9"/><rect x="1633.4" y="244" width="15.9" height="15.9"/><rect x="1635.1" y="248.5" width="15.9" height="15.9"/><rect x="1636.7" y="247.2" width="15.9" height="15.9"/><rect x="1638.3" y="249.1" width="15.9" height="15.9"/><rect x="1640" y="245.6" width="15.9" height="15.9"/><rect x="1641.6" y="247.3" width="15.9" height="15.9"/><rect x="1643.2" y="246" width="15.9" height="15.9"/><rect x="1644.8" y="246" width="15.9" height="15.9"/><rect x="1646.4" y="245.4" width="15.9" height="15.9"/><rect x="1647.9" y="243.3" width="15.9" height="15.9"/><rect x="1649.5" y="239.9" width="15.9" height="15.9"/><rect x="1651" y="239.2" width="15.9" height="15.9"/><rect x="1652.6" y="242.6" width="15.9" height="15.9"/><rect x="1654.1" y="243.3" width="15.9" height="15.9"/><rect x="1655.6" y="243.2" width="15.9" height="15.9"/><rect x="1657.1" y="239.1" width="15.9" height="15.9"/><rect x="1658.6" y="239.5" width="15.9" height="15.9"/><rect x="1660.1" y="240" width="15.9" height="15.9"/><rect x="1661.6" y="238.8" width="15.9" height="15.9"/><rect x="1663.1" y="239" width="15.9" height="15.9"/><rect x="1664.6" y="236.9" width="15.9" height="15.9"/><rect x="1666" y="236.6" width="15.9" height="15.9"/><rect x="1667.5" y="236.3" width="15.9" height="15.9"/><rect x="1668.9" y="233.3" width="15.9" height="15.9"/><rect x="1670.4" y="235.9" width="15.9" height="15.9"/><rect x="1671.8" y="236.5" width="15.9" height="15.9"/><rect x="1673.2" y="230.8" width="15.9" height="15.9"/><rect x="1674.6" y="234" width="15.9" height="15.9"/><rect x="1676" y="234.4" width="15.9" height="15.9"/><rect x="1677.4" y="232.3" width="15.9" height="15.9"/><rect x="1678.8" y="227.4" width="15.9" height="15.9"/><rect x="1680.2" y="230.6" width="15.9" height="15.9"/><rect x="1681.5" y="226.4" width="15.9" height="15.9"/><rect x="1682.9" y="229.7" width="15.9" height="15.9"/><rect x="1684.3" y="228.4" width="15.9" height="15.9"/><rect x="1685.6" y="223.9" width="15.9" height="15.9"/><rect x="1686.9" y="222.7" width="15.9" height="15.9"/><rect x="1688.3" y="224.7" width="15.9" height="15.9"/><rect x="1689.6" y="224.5" width="15.9" height="15.9"/><rect x="1690.9" y="225" width="15.9" height="15.9"/><rect x="1692.2" y="225.8" width="15.9" height="15.9"/><rect x="1693.5" y="221.3" width="15.9" height="15.9"/><rect x="1694.8" y="218.1" width="15.9" height="15.9"/><rect x="1696.1" y="222.2" width="15.9" height="15.9"/><rect x="1697.4" y="217.5" width="15.9" height="15.9"/><rect x="1698.7" y="220.7" width="15.9" height="15.9"/><rect x="1700" y="216.7" width="15.9" height="15.9"/><rect x="1701.2" y="219.1" width="15.9" height="15.9"/><rect x="1702.5" y="219.2" width="15.9" height="15.9"/><rect x="1703.7" y="219.3" width="15.9" height="15.9"/><rect x="1705" y="216.9" width="15.9" height="15.9"/><rect x="1706.2" y="217.7" width="15.9" height="15.9"/><rect x="1707.4" y="213.4" width="15.9" height="15.9"/><rect x="1708.7" y="214.5" width="15.9" height="15.9"/><rect x="1709.9" y="212.3" width="15.9" height="15.9"/><rect x="1711.1" y="214.5" width="15.9" height="15.9"/><rect x="1712.3" y="214" width="15.9" height="15.9"/><rect x="1713.5" y="211.6" width="15.9" height="15.9"/><rect x="1714.7" y="210.7" width="15.9" height="15.9"/><rect x="1715.9" y="207.2" width="15.9" height="15.9"/><rect x="1717.1" y="206" width="15.9" height="15.9"/><rect x="1718.3" y="208.7" width="15.9" height="15.9"/><rect x="1719.4" y="208.6" width="15.9" height="15.9"/><rect x="1720.6" y="210.6" width="15.9" height="15.9"/><rect x="1721.8" y="209.4" width="15.9" height="15.9"/><rect x="1722.9" y="206.1" width="15.9" height="15.9"/><rect x="1724.1" y="206.1" width="15.9" height="15.9"/><rect x="1725.2" y="208.3" width="15.9" height="15.9"/><rect x="1726.4" y="207.3" width="15.9" height="15.9"/><rect x="1727.5" y="203.7" width="15.9" height="15.9"/><rect x="1728.6" y="207.3" width="15.9" height="15.9"/><rect x="1729.8" y="208.1" width="15.9" height="15.9"/><rect x="1730.9" y="203.7" width="15.9" height="15.9"/><rect x="1732" y="204.9" width="15.9" height="15.9"/><rect x="1733" y="204.9" width="15.9" height="15.9"/>
</g>
<g fill="none" stroke="#2e3192" stroke-width="3.1">
<circle cx="616" cy="851.8" r="9.2"/><circle cx="701.4" cy="811.1" r="9.2"/><circle cx="764.8" cy="767.6" r="9.2"/><circle cx="815.2" cy="731.2" r="9.2"/><circle cx="857.3" cy="692.6" r="9.2"/><circle cx="893.6" cy="668.2" r="9.2"/><circle cx="925.2" cy="644.9" r="9.2"/><circle cx="953" cy="631.8" r="9.2"/><circle cx="979.2" cy="612.1" r="9.2"/><circle cx="1002.9" cy="592.9" r="9.2"/><circle cx="1023.8" cy="578.9" r="9.2"/><circle cx="1042.7" cy="560" r="9.2"/><circle cx="1060.4" cy="553.5" r="9.2"/><circle cx="1076.9" cy="536.8" r="9.2"/><circle cx="1092.3" cy="522.4" r="9.2"/><circle cx="1106.9" cy="507.9" r="9.2"/><circle cx="1120.6" cy="498" r="9.2"/><circle cx="1133.6" cy="490.3" r="9.2"/><circle cx="1146" cy="474" r="9.2"/><circle cx="1157.8" cy="466.1" r="9.2"/><circle cx="1169" cy="462.6" r="9.2"/><circle cx="1179.7" cy="456" r="9.2"/><circle cx="1190" cy="451.5" r="9.2"/><circle cx="1199.9" cy="440.1" r="9.2"/><circle cx="1209.4" cy="434.7" r="9.2"/><circle cx="1218.5" cy="427.3" r="9.2"/><circle cx="1227.3" cy="423.1" r="9.2"/><circle cx="1235.9" cy="418" r="9.2"/><circle cx="1244.1" cy="408.6" r="9.2"/><circle cx="1252" cy="402.3" r="9.2"/><circle cx="1259.8" cy="395.6" r="9.2"/><circle cx="1267.2" cy="392.9" r="9.2"/><circle cx="1274.5" cy="386.3" r="9.2"/><circle cx="1281.5" cy="376.4" r="9.2"/><circle cx="1288.4" cy="374.2" r="9.2"/><circle cx="1295.1" cy="365.9" r="9.2"/><circle cx="1301.5" cy="363.1" r="9.2"/><circle cx="1307.9" cy="355.9" r="9.2"/><circle cx="1314" cy="349.7" r="9.2"/><circle cx="1320" cy="349.9" r="9.2"/><circle cx="1325.9" cy="342" r="9.2"/><circle cx="1331.7" cy="336.2" r="9.2"/><circle cx="1337.3" cy="335.7" r="9.2"/><circle cx="1342.7" cy="331.5" r="9.2"/><circle cx="1348.1" cy="323.3" r="9.2"/><circle cx="1353.3" cy="321.8" r="9.2"/><circle cx="1358.5" cy="316.1" r="9.2"/><circle cx="1363.5" cy="313.1" r="9.2"/><circle cx="1368.4" cy="307.2" r="9.2"/><circle cx="1373.3" cy="307.7" r="9.2"/><circle cx="1378" cy="304.1" r="9.2"/><circle cx="1382.7" cy="302.6" r="9.2"/><circle cx="1387.2" cy="299.7" r="9.2"/><circle cx="1391.7" cy="293.2" r="9.2"/><circle cx="1396.1" cy="289.7" r="9.2"/><circle cx="1400.4" cy="285.6" r="9.2"/><circle cx="1404.7" cy="282.4" r="9.2"/><circle cx="1408.9" cy="279.1" r="9.2"/><circle cx="1413" cy="277.7" r="9.2"/><circle cx="1417" cy="277.7" r="9.2"/><circle cx="1421" cy="272.9" r="9.2"/><circle cx="1424.9" cy="274.2" r="9.2"/><circle cx="1428.8" cy="271.3" r="9.2"/><circle cx="1432.5" cy="269.1" r="9.2"/><circle cx="1436.3" cy="270.2" r="9.2"/><circle cx="1440" cy="267.3" r="9.2"/><circle cx="1443.6" cy="265.1" r="9.2"/><circle cx="1447.2" cy="264.8" r="9.2"/><circle cx="1450.7" cy="265.4" r="9.2"/><circle cx="1454.1" cy="261.2" r="9.2"/><circle cx="1457.6" cy="264.7" r="9.2"/><circle cx="1460.9" cy="259.5" r="9.2"/><circle cx="1464.3" cy="261.7" r="9.2"/><circle cx="1467.6" cy="262.3" r="9.2"/><circle cx="1470.8" cy="257.1" r="9.2"/><circle cx="1474" cy="259.5" r="9.2"/><circle cx="1477.2" cy="257.2" r="9.2"/><circle cx="1480.3" cy="257.2" r="9.2"/><circle cx="1483.4" cy="253.3" r="9.2"/><circle cx="1486.4" cy="251.6" r="9.2"/><circle cx="1489.4" cy="251.3" r="9.2"/><circle cx="1492.4" cy="255.1" r="9.2"/><circle cx="1495.3" cy="251.2" r="9.2"/><circle cx="1498.2" cy="252.7" r="9.2"/><circle cx="1501.1" cy="253.6" r="9.2"/><circle cx="1503.9" cy="253.3" r="9.2"/><circle cx="1506.7" cy="248.8" r="9.2"/><circle cx="1509.5" cy="246.4" r="9.2"/><circle cx="1512.2" cy="245.8" r="9.2"/><circle cx="1514.9" cy="246.1" r="9.2"/><circle cx="1517.6" cy="241.4" r="9.2"/><circle cx="1520.2" cy="242.8" r="9.2"/><circle cx="1522.9" cy="242.6" r="9.2"/><circle cx="1525.5" cy="242" r="9.2"/><circle cx="1528" cy="236.3" r="9.2"/><circle cx="1530.6" cy="239.6" r="9.2"/><circle cx="1533.1" cy="235.1" r="9.2"/><circle cx="1535.6" cy="234.7" r="9.2"/><circle cx="1538" cy="235.7" r="9.2"/><circle cx="1540.5" cy="237.3" r="9.2"/><circle cx="1542.9" cy="234" r="9.2"/><circle cx="1545.3" cy="236" r="9.2"/><circle cx="1547.6" cy="233.9" r="9.2"/><circle cx="1550" cy="231.8" r="9.2"/><circle cx="1552.3" cy="231.4" r="9.2"/><circle cx="1554.6" cy="230.6" r="9.2"/><circle cx="1556.9" cy="229.9" r="9.2"/><circle cx="1559.2" cy="230.2" r="9.2"/><circle cx="1561.4" cy="233.6" r="9.2"/><circle cx="1563.6" cy="236.5" r="9.2"/><circle cx="1565.8" cy="232.6" r="9.2"/><circle cx="1568" cy="230.8" r="9.2"/><circle cx="1570.2" cy="235.9" r="9.2"/><circle cx="1572.3" cy="235.3" r="9.2"/><circle cx="1574.4" cy="234.8" r="9.2"/><circle cx="1576.5" cy="234.1" r="9.2"/><circle cx="1578.6" cy="236.5" r="9.2"/><circle cx="1580.7" cy="239" r="9.2"/><circle cx="1582.7" cy="238" r="9.2"/><circle cx="1584.8" cy="237.9" r="9.2"/><circle cx="1586.8" cy="236.2" r="9.2"/><circle cx="1588.8" cy="241.1" r="9.2"/><circle cx="1590.8" cy="237.8" r="9.2"/><circle cx="1592.8" cy="239.9" r="9.2"/><circle cx="1594.7" cy="242.5" r="9.2"/><circle cx="1596.6" cy="239.2" r="9.2"/><circle cx="1598.6" cy="241.8" r="9.2"/><circle cx="1600.5" cy="243.9" r="9.2"/><circle cx="1602.4" cy="242.7" r="9.2"/><circle cx="1604.3" cy="243.4" r="9.2"/><circle cx="1606.1" cy="239.6" r="9.2"/><circle cx="1608" cy="240.5" r="9.2"/><circle cx="1609.8" cy="239.1" r="9.2"/><circle cx="1611.6" cy="242.9" r="9.2"/><circle cx="1613.4" cy="240.8" r="9.2"/><circle cx="1615.2" cy="241.2" r="9.2"/><circle cx="1617" cy="244.6" r="9.2"/><circle cx="1618.8" cy="244.8" r="9.2"/><circle cx="1620.6" cy="245.6" r="9.2"/><circle cx="1622.3" cy="242.8" r="9.2"/><circle cx="1624" cy="242.2" r="9.2"/><circle cx="1625.8" cy="243.5" r="9.2"/><circle cx="1627.5" cy="242.4" r="9.2"/><circle cx="1629.2" cy="241" r="9.2"/><circle cx="1630.9" cy="241.3" r="9.2"/><circle cx="1632.5" cy="239.9" r="9.2"/><circle cx="1634.2" cy="240.9" r="9.2"/><circle cx="1635.9" cy="244.8" r="9.2"/><circle cx="1637.5" cy="245.6" r="9.2"/><circle cx="1639.1" cy="243.6" r="9.2"/><circle cx="1640.7" cy="242.1" r="9.2"/><circle cx="1642.4" cy="240.5" r="9.2"/><circle cx="1644" cy="238.3" r="9.2"/><circle cx="1645.5" cy="238.5" r="9.2"/><circle cx="1647.1" cy="241.4" r="9.2"/><circle cx="1648.7" cy="242.6" r="9.2"/><circle cx="1650.3" cy="239.7" r="9.2"/><circle cx="1651.8" cy="241.2" r="9.2"/><circle cx="1653.3" cy="241.4" r="9.2"/><circle cx="1654.9" cy="240.7" r="9.2"/><circle cx="1656.4" cy="240.2" r="9.2"/><circle cx="1657.9" cy="240.4" r="9.2"/><circle cx="1659.4" cy="237.8" r="9.2"/><circle cx="1660.9" cy="238.8" r="9.2"/><circle cx="1662.4" cy="236.4" r="9.2"/><circle cx="1663.9" cy="236.6" r="9.2"/><circle cx="1665.3" cy="238.1" r="9.2"/><circle cx="1666.8" cy="237.8" r="9.2"/><circle cx="1668.2" cy="235.1" r="9.2"/><circle cx="1669.7" cy="237.9" r="9.2"/><circle cx="1671.1" cy="236.7" r="9.2"/><circle cx="1672.5" cy="235.7" r="9.2"/><circle cx="1673.9" cy="231.8" r="9.2"/><circle cx="1675.3" cy="233.6" r="9.2"/><circle cx="1676.7" cy="232.1" r="9.2"/><circle cx="1678.1" cy="233.9" r="9.2"/><circle cx="1679.5" cy="233" r="9.2"/><circle cx="1680.9" cy="234.4" r="9.2"/><circle cx="1682.3" cy="233.4" r="9.2"/><circle cx="1683.6" cy="233.6" r="9.2"/><circle cx="1685" cy="230.6" r="9.2"/><circle cx="1686.3" cy="231" r="9.2"/><circle cx="1687.7" cy="231.3" r="9.2"/><circle cx="1689" cy="231.6" r="9.2"/><circle cx="1690.3" cy="228.5" r="9.2"/><circle cx="1691.6" cy="230" r="9.2"/><circle cx="1692.9" cy="230.3" r="9.2"/><circle cx="1694.2" cy="228.9" r="9.2"/><circle cx="1695.5" cy="229.8" r="9.2"/><circle cx="1696.8" cy="229.6" r="9.2"/><circle cx="1698.1" cy="226.6" r="9.2"/><circle cx="1699.4" cy="225.4" r="9.2"/><circle cx="1700.7" cy="222.5" r="9.2"/><circle cx="1701.9" cy="225.3" r="9.2"/><circle cx="1703.2" cy="226.5" r="9.2"/><circle cx="1704.4" cy="224" r="9.2"/><circle cx="1705.7" cy="224.2" r="9.2"/><circle cx="1706.9" cy="224.2" r="9.2"/><circle cx="1708.1" cy="224" r="9.2"/><circle cx="1709.4" cy="220.5" r="9.2"/><circle cx="1710.6" cy="222.7" r="9.2"/><circle cx="1711.8" cy="222" r="9.2"/><circle cx="1713" cy="222.1" r="9.2"/><circle cx="1714.2" cy="220.4" r="9.2"/><circle cx="1715.4" cy="220.9" r="9.2"/><circle cx="1716.6" cy="221.7" r="9.2"/><circle cx="1717.8" cy="220.9" r="9.2"/><circle cx="1719" cy="220.9" r="9.2"/><circle cx="1720.1" cy="216.6" r="9.2"/><circle cx="1721.3" cy="215.9" r="9.2"/><circle cx="1722.5" cy="217.1" r="9.2"/><circle cx="1723.6" cy="218.5" r="9.2"/><circle cx="1724.8" cy="216.3" r="9.2"/><circle cx="1725.9" cy="218.3" r="9.2"/><circle cx="1727" cy="218.5" r="9.2"/><circle cx="1728.2" cy="215" r="9.2"/><circle cx="1729.3" cy="216.4" r="9.2"/><circle cx="1730.4" cy="215.3" r="9.2"/><circle cx="1731.6" cy="213.8" r="9.2"/><circle cx="1732.7" cy="213.8" r="9.2"/><circle cx="1733.8" cy="214.7" r="9.2"/><circle cx="1734.9" cy="214.1" r="9.2"/><circle cx="1736" cy="213.9" r="9.2"/><circle cx="1737.1" cy="212.9" r="9.2"/><circle cx="1738.2" cy="215" r="9.2"/><circle cx="1739.3" cy="215" r="9.2"/>
</g>
</g>
<g id="series-bottom">
<g fill="none" stroke="#17095b" stroke-width="3.6">
<circle cx="647.6" cy="2462.6" r="8.9"/><circle cx="747.3" cy="2369.3" r="8.9"/><circle cx="818.5" cy="2323.1" r="8.9"/><circle cx="873.5" cy="2224" r="8.9"/><circle cx="918.8" cy="2192.8" r="8.9"/><circle cx="957.3" cy="2160.9" r="8.9"/><circle cx="990.7" cy="2121.1" r="8.9"/><circle cx="1020.5" cy="2088.8" r="8.9"/><circle cx="1046.9" cy="2036.4" r="8.9"/><circle cx="1071.2" cy="2029.8" r="8.9"/><circle cx="1092.9" cy="2011.4" r="8.9"/><circle cx="1113.2" cy="1996" r="8.9"/><circle cx="1132.1" cy="1970.4" r="8.9"/><circle cx="1150" cy="1937.2" r="8.9"/><circle cx="1166.1" cy="1926.7" r="8.9"/><circle cx="1182" cy="1910.4" r="8.9"/><circle cx="1196" cy="1890" r="8.9"/><circle cx="1210.7" cy="1886.4" r="8.9"/><circle cx="1224.1" cy="1868.3" r="8.9"/><circle cx="1236.6" cy="1841.9" r="8.9"/><circle cx="1248.3" cy="1834.1" r="8.9"/><circle cx="1260" cy="1828.5" r="8.9"/><circle cx="1271.2" cy="1806.2" r="8.9"/><circle cx="1302.6" cy="1775.9" r="8.9"/><circle cx="1320.7" cy="1768.6" r="8.9"/><circle cx="1338.3" cy="1746.6" r="8.9"/><circle cx="1346.9" cy="1732.4" r="8.9"/><circle cx="1370.8" cy="1704" r="8.9"/><circle cx="1386.2" cy="1691" r="8.9"/><circle cx="1393.7" cy="1677.6" r="8.9"/><circle cx="1407.6" cy="1661.7" r="8.9"/><circle cx="1421" cy="1654.5" r="8.9"/><circle cx="1432.9" cy="1628.8" r="8.9"/><circle cx="1444.9" cy="1616.8" r="8.9"/><circle cx="1456.9" cy="1604.8" r="8.9"/><circle cx="1468.9" cy="1590.7" r="8.9"/><circle cx="1479.8" cy="1576.5" r="8.9"/><circle cx="1491.3" cy="1565.6" r="8.9"/><circle cx="1497.2" cy="1556.9" r="8.9"/><circle cx="1506" cy="1547.1" r="8.9"/><circle cx="1515.7" cy="1535.1" r="8.9"/><circle cx="1526.6" cy="1523.1" r="8.9"/><circle cx="1535.3" cy="1518.8" r="8.9"/><circle cx="1544.3" cy="1512.1" r="8.9"/><circle cx="1552.5" cy="1505.3" r="8.9"/><circle cx="1560" cy="1504.6" r="8.9"/><circle cx="1566.8" cy="1498.8" r="8.9"/><circle cx="1573.1" cy="1497.2" r="8.9"/><circle cx="1578.9" cy="1497" r="8.9"/><circle cx="1584.1" cy="1491" r="8.9"/><circle cx="1588.9" cy="1491.7" r="8.9"/><circle cx="1593.4" cy="1492.3" r="8.9"/><circle cx="1597.4" cy="1493.6" r="8.9"/><circle cx="1601.1" cy="1484.7" r="8.9"/><circle cx="1604.6" cy="1483.7" r="8.9"/><circle cx="1607.9" cy="1479.5" r="8.9"/><circle cx="1611.2" cy="1486.4" r="8.9"/><circle cx="1614.3" cy="1486" r="8.9"/><circle cx="1617.4" cy="1476.2" r="8.9"/><circle cx="1620.3" cy="1485.2" r="8.9"/><circle cx="1623.1" cy="1487.8" r="8.9"/><circle cx="1625.9" cy="1484.2" r="8.9"/><circle cx="1628.5" cy="1482.4" r="8.9"/><circle cx="1631.1" cy="1475.1" r="8.9"/><circle cx="1633.6" cy="1470.5" r="8.9"/><circle cx="1636" cy="1476.5" r="8.9"/><circle cx="1638.3" cy="1471.1" r="8.9"/><circle cx="1640.6" cy="1471.3" r="8.9"/><circle cx="1642.8" cy="1472.4" r="8.9"/><circle cx="1645" cy="1470" r="8.9"/><circle cx="1647.2" cy="1476.4" r="8.9"/><circle cx="1649.3" cy="1478.4" r="8.9"/><circle cx="1651.5" cy="1485.8" r="8.9"/><circle cx="1653.6" cy="1483.4" r="8.9"/><circle cx="1655.8" cy="1485" r="8.9"/><circle cx="1657.9" cy="1483.8" r="8.9"/><circle cx="1660" cy="1486.4" r="8.9"/><circle cx="1662.1" cy="1484.4" r="8.9"/><circle cx="1664.2" cy="1481.4" r="8.9"/><circle cx="1666.3" cy="1492.3" r="8.9"/><circle cx="1668.4" cy="1496" r="8.9"/><circle cx="1670.5" cy="1495" r="8.9"/><circle cx="1672.6" cy="1493.1" r="8.9"/><circle cx="1674.6" cy="1486.7" r="8.9"/><circle cx="1676.7" cy="1483.9" r="8.9"/><circle cx="1678.7" cy="1484.4" r="8.9"/><circle cx="1680.7" cy="1481.4" r="8.9"/><circle cx="1682.8" cy="1492" r="8.9"/><circle cx="1684.8" cy="1489.8" r="8.9"/><circle cx="1686.8" cy="1496.8" r="8.9"/><circle cx="1688.8" cy="1492.2" r="8.9"/><circle cx="1690.8" cy="1500.5" r="8.9"/><circle cx="1692.7" cy="1501.8" r="8.9"/><circle cx="1694.7" cy="1489.2" r="8.9"/><circle cx="1696.7" cy="1489.3" r="8.9"/><circle cx="1698.6" cy="1501.1" r="8.9"/><circle cx="1700.6" cy="1498.2" r="8.9"/><circle cx="1702.5" cy="1506" r="8.9"/><circle cx="1704.4" cy="1499.6" r="8.9"/><circle cx="1706.3" cy="1493" r="8.9"/><circle cx="1708.3" cy="1500.4" r="8.9"/><circle cx="1710.2" cy="1505.3" r="8.9"/><circle cx="1712" cy="1499.1" r="8.9"/><circle cx="1713.9" cy="1494.6" r="8.9"/><circle cx="1715.8" cy="1497.6" r="8.9"/><circle cx="1717.7" cy="1509.1" r="8.9"/><circle cx="1719.5" cy="1509.6" r="8.9"/><circle cx="1721.4" cy="1499.8" r="8.9"/><circle cx="1723.2" cy="1499.3" r="8.9"/><circle cx="1725.1" cy="1497.2" r="8.9"/><circle cx="1726.9" cy="1496.3" r="8.9"/><circle cx="1728.7" cy="1508.3" r="8.9"/><circle cx="1730.5" cy="1502.4" r="8.9"/><circle cx="1732.3" cy="1507.4" r="8.9"/><circle cx="1734.1" cy="1507.5" r="8.9"/><circle cx="1735.9" cy="1503.9" r="8.9"/><circle cx="1737.7" cy="1512.1" r="8.9"/><circle cx="1739.5" cy="1505.3" r="8.9"/><circle cx="1741.2" cy="1512" r="8.9"/><circle cx="1743" cy="1506" r="8.9"/><circle cx="1744.7" cy="1509.6" r="8.9"/><circle cx="1746.5" cy="1507.8" r="8.9"/><circle cx="1748.2" cy="1508.6" r="8.9"/><circle cx="1749.9" cy="1520.8" r="8.9"/><circle cx="1751.7" cy="1521.6" r="8.9"/><circle cx="1753.4" cy="1513.3" r="8.9"/><circle cx="1755.1" cy="1520.1" r="8.9"/><circle cx="1756.8" cy="1510.9" r="8.9"/><circle cx="1758.5" cy="1510.9" r="8.9"/><circle cx="1760.1" cy="1518.3" r="8.9"/><circle cx="1761.8" cy="1516.8" r="8.9"/><circle cx="1763.5" cy="1507.2" r="8.9"/><circle cx="1765.1" cy="1518.7" r="8.9"/><circle cx="1766.8" cy="1509.2" r="8.9"/><circle cx="1768.4" cy="1506.9" r="8.9"/><circle cx="1770.1" cy="1514.5" r="8.9"/><circle cx="1771.7" cy="1509.2" r="8.9"/><circle cx="1773.3" cy="1506.9" r="8.9"/><circle cx="1775" cy="1502.3" r="8.9"/><circle cx="1776.6" cy="1501" r="8.9"/><circle cx="1778.2" cy="1508.6" r="8.9"/><circle cx="1779.8" cy="1505" r="8.9"/><circle cx="1781.3" cy="1509.7" r="8.9"/><circle cx="1782.9" cy="1507.1" r="8.9"/><circle cx="1784.5" cy="1507.4" r="8.9"/><circle cx="1786.1" cy="1515.7" r="8.9"/><circle cx="1787.6" cy="1510.1" r="8.9"/><circle cx="1789.2" cy="1509.8" r="8.9"/><circle cx="1790.7" cy="1514.5" r="8.9"/><circle cx="1792.3" cy="1504.5" r="8.9"/><circle cx="1793.8" cy="1500.9" r="8.9"/><circle cx="1795.3" cy="1512.3" r="8.9"/>
</g>
<g fill="none" stroke="#17095b" stroke-width="3.4">
<rect x="700.3" y="2307" width="15.4" height="15.4"/><rect x="884.4" y="2122" width="15.4" height="15.4"/><rect x="988.3" y="2039.3" width="15.4" height="15.4"/><rect x="1061" y="1966.1" width="15.4" height="15.4"/><rect x="1117.2" y="1910.9" width="15.4" height="15.4"/><rect x="1163.2" y="1868.1" width="15.4" height="15.4"/><rect x="1201.6" y="1821.6" width="15.4" height="15.4"/><rect x="1235.1" y="1787.4" width="15.4" height="15.4"/><rect x="1264.3" y="1753.4" width="15.4" height="15.4"/><rect x="1290.2" y="1725" width="15.4" height="15.4"/><rect x="1314.4" y="1695.8" width="15.4" height="15.4"/><rect x="1335.9" y="1667.1" width="15.4" height="15.4"/><rect x="1355.3" y="1645.7" width="15.4" height="15.4"/><rect x="1374.7" y="1625" width="15.4" height="15.4"/><rect x="1392.1" y="1600.3" width="15.4" height="15.4"/><rect x="1407.8" y="1583" width="15.4" height="15.4"/><rect x="1423" y="1566.6" width="15.4" height="15.4"/><rect x="1436.8" y="1549.2" width="15.4" height="15.4"/><rect x="1450.3" y="1537.2" width="15.4" height="15.4"/><rect x="1463.3" y="1524.1" width="15.4" height="15.4"/><rect x="1475.3" y="1512.3" width="15.4" height="15.4"/><rect x="1486.3" y="1502.3" width="15.4" height="15.4"/><rect x="1499.3" y="1493.6" width="15.4" height="15.4"/><rect x="1510.3" y="1487.1" width="15.4" height="15.4"/><rect x="1521.1" y="1481.6" width="15.4" height="15.4"/><rect x="1532" y="1476.2" width="15.4" height="15.4"/><rect x="1542.9" y="1471.8" width="15.4" height="15.4"/><rect x="1553.8" y="1467.5" width="15.4" height="15.4"/><rect x="1564.7" y="1462" width="15.4" height="15.4"/><rect x="1575.6" y="1458.8" width="15.4" height="15.4"/><rect x="1586.5" y="1456.6" width="15.4" height="15.4"/><rect x="1597.3" y="1454.4" width="15.4" height="15.4"/><rect x="1608.3" y="1452.3" width="15.4" height="15.4"/><rect x="1614.8" y="1452.1" width="15.4" height="15.4"/><rect x="1620.7" y="1453.5" width="15.4" height="15.4"/><rect x="1626.1" y="1454.2" width="15.4" height="15.4"/><rect x="1631.1" y="1449.4" width="15.4" height="15.4"/><rect x="1635.5" y="1446.5" width="15.4" height="15.4"/><rect x="1639.6" y="1449.6" width="15.4" height="15.4"/><rect x="1643.4" y="1449.6" width="15.4" height="15.4"/><rect x="1646.9" y="1456.5" width="15.4" height="15.4"/><rect x="1650.2" y="1457.5" width="15.4" height="15.4"/><rect x="1653.5" y="1456.8" width="15.4" height="15.4"/><rect x="1656.7" y="1456.2" width="15.4" height="15.4"/><rect x="1659.9" y="1457.9" width="15.4" height="15.4"/><rect x="1662.9" y="1451.8" width="15.4" height="15.4"/><rect x="1665.9" y="1454.4" width="15.4" height="15.4"/><rect x="1668.8" y="1451.8" width="15.4" height="15.4"/><rect x="1671.6" y="1461.6" width="15.4" height="15.4"/><rect x="1674.3" y="1453.3" width="15.4" height="15.4"/><rect x="1677" y="1461.7" width="15.4" height="15.4"/><rect x="1679.6" y="1454.3" width="15.4" height="15.4"/><rect x="1682.1" y="1460.9" width="15.4" height="15.4"/><rect x="1684.6" y="1458.5" width="15.4" height="15.4"/><rect x="1687" y="1459.1" width="15.4" height="15.4"/><rect x="1689.3" y="1465.6" width="15.4" height="15.4"/><rect x="1691.6" y="1456.7" width="15.4" height="15.4"/><rect x="1693.8" y="1454.9" width="15.4" height="15.4"/><rect x="1696" y="1466.4" width="15.4" height="15.4"/><rect x="1698.2" y="1464.7" width="15.4" height="15.4"/><rect x="1700.3" y="1458.4" width="15.4" height="15.4"/><rect x="1702.5" y="1468.5" width="15.4" height="15.4"/><rect x="1704.6" y="1470.8" width="15.4" height="15.4"/><rect x="1706.7" y="1459.9" width="15.4" height="15.4"/><rect x="1708.8" y="1460.7" width="15.4" height="15.4"/><rect x="1710.9" y="1456.8" width="15.4" height="15.4"/><rect x="1713" y="1457.9" width="15.4" height="15.4"/><rect x="1715.1" y="1462.3" width="15.4" height="15.4"/><rect x="1717.1" y="1457.2" width="15.4" height="15.4"/><rect x="1719.1" y="1462.8" width="15.4" height="15.4"/><rect x="1721.2" y="1455.4" width="15.4" height="15.4"/><rect x="1723.2" y="1454.4" width="15.4" height="15.4"/><rect x="1725.2" y="1462.7" width="15.4" height="15.4"/><rect x="1727.1" y="1459.2" width="15.4" height="15.4"/><rect x="1729.1" y="1458" width="15.4" height="15.4"/><rect x="1731.1" y="1459.8" width="15.4" height="15.4"/><rect x="1733" y="1458.4" width="15.4" height="15.4"/><rect x="1734.9" y="1456.5" width="15.4" height="15.4"/><rect x="1736.9" y="1450.7" width="15.4" height="15.4"/><rect x="1738.8" y="1458.2" width="15.4" height="15.4"/><rect x="1740.6" y="1463.5" width="15.4" height="15.4"/><rect x="1742.5" y="1464.9" width="15.4" height="15.4"/><rect x="1744.4" y="1460.5" width="15.4" height="15.4"/><rect x="1746.2" y="1454.4" width="15.4" height="15.4"/><rect x="1748.1" y="1452.1" width="15.4" height="15.4"/><rect x="1749.9" y="1455.4" width="15.4" height="15.4"/><rect x="1751.7" y="1455.6" width="15.4" height="15.4"/><rect x="1753.5" y="1447.5" width="15.4" height="15.4"/><rect x="1755.3" y="1446.2" width="15.4" height="15.4"/><rect x="1757.1" y="1447.1" width="15.4" height="15.4"/><rect x="1758.9" y="1448.9" width="15.4" height="15.4"/><rect x="1760.6" y="1453" width="15.4" height="15.4"/><rect x="1762.4" y="1449.5" width="15.4" height="15.4"/><rect x="1764.1" y="1441.4" width="15.4" height="15.4"/><rect x="1765.8" y="1449.3" width="15.4" height="15.4"/><rect x="1767.5" y="1445.7" width="15.4" height="15.4"/><rect x="1769.2" y="1445.3" width="15.4" height="15.4"/><rect x="1770.9" y="1440.5" width="15.4" height="15.4"/><rect x="1772.6" y="1441.3" width="15.4" height="15.4"/><rect x="1774.3" y="1440.4" width="15.4" height="15.4"/><rect x="1775.9" y="1444.9" width="15.4" height="15.4"/><rect x="1777.6" y="1436.4" width="15.4" height="15.4"/>
</g>
<g fill="#2e3192" stroke="none">
<path d="M720.8 2227L733.1 2239.3L720.8 2251.6L708.5 2239.3Z"/><path d="M877.1 2086L889.4 2098.3L877.1 2110.6L864.8 2098.3Z"/><path d="M982.1 1993L994.4 2005.3L982.1 2017.6L969.8 2005.3Z"/><path d="M1054.8 1901.8L1067.1 1914.1L1054.8 1926.4L1042.5 1914.1Z"/><path d="M1111.3 1846.3L1123.6 1858.6L1111.3 1870.9L1099 1858.6Z"/><path d="M1156.4 1803.1L1168.7 1815.4L1156.4 1827.7L1144.1 1815.4Z"/><path d="M1194.9 1778.1L1207.2 1790.4L1194.9 1802.7L1182.6 1790.4Z"/><path d="M1228.8 1753L1241.1 1765.3L1228.8 1777.6L1216.5 1765.3Z"/><path d="M1258.1 1725.2L1270.4 1737.5L1258.1 1749.8L1245.8 1737.5Z"/><path d="M1284.5 1695.9L1296.8 1708.2L1284.5 1720.5L1272.2 1708.2Z"/><path d="M1306.8 1683.4L1319.1 1695.7L1306.8 1708L1294.5 1695.7Z"/><path d="M1329.1 1655.5L1341.4 1667.8L1329.1 1680.1L1316.8 1667.8Z"/><path d="M1348.6 1633.3L1360.9 1645.6L1348.6 1657.9L1336.3 1645.6Z"/><path d="M1366.4 1600.4L1378.7 1612.7L1366.4 1625L1354.1 1612.7Z"/><path d="M1383.6 1579.6L1395.9 1591.9L1383.6 1604.2L1371.3 1591.9Z"/><path d="M1399.6 1562.3L1411.9 1574.6L1399.6 1586.9L1387.3 1574.6Z"/><path d="M1414.7 1546.5L1427 1558.8L1414.7 1571.1L1402.4 1558.8Z"/><path d="M1428.8 1528.6L1441.1 1540.9L1428.8 1553.2L1416.5 1540.9Z"/><path d="M1442.3 1512.9L1454.6 1525.2L1442.3 1537.5L1430 1525.2Z"/><path d="M1455 1498.7L1467.3 1511L1455 1523.3L1442.7 1511Z"/><path d="M1467.1 1487.9L1479.4 1500.2L1467.1 1512.5L1454.8 1500.2Z"/><path d="M1478.6 1479.8L1490.9 1492.1L1478.6 1504.4L1466.3 1492.1Z"/><path d="M1489.6 1469.1L1501.9 1481.4L1489.6 1493.7L1477.3 1481.4Z"/><path d="M1500.1 1463L1512.4 1475.3L1500.1 1487.6L1487.8 1475.3Z"/><path d="M1510.2 1455.3L1522.5 1467.6L1510.2 1479.9L1497.9 1467.6Z"/><path d="M1520 1449.2L1532.3 1461.5L1520 1473.8L1507.7 1461.5Z"/><path d="M1529.3 1445.7L1541.6 1458L1529.3 1470.3L1517 1458Z"/><path d="M1538.3 1443.8L1550.6 1456.1L1538.3 1468.4L1526 1456.1Z"/><path d="M1547 1440.1L1559.3 1452.4L1547 1464.7L1534.7 1452.4Z"/><path d="M1555.4 1434.6L1567.7 1446.9L1555.4 1459.2L1543.1 1446.9Z"/><path d="M1563.5 1431.6L1575.8 1443.9L1563.5 1456.2L1551.2 1443.9Z"/><path d="M1571.3 1428.2L1583.6 1440.5L1571.3 1452.8L1559 1440.5Z"/><path d="M1578.9 1428.2L1591.2 1440.5L1578.9 1452.8L1566.6 1440.5Z"/><path d="M1586.3 1426.9L1598.6 1439.2L1586.3 1451.5L1574 1439.2Z"/><path d="M1593.5 1425.8L1605.8 1438.1L1593.5 1450.4L1581.2 1438.1Z"/><path d="M1600.4 1424.5L1612.7 1436.8L1600.4 1449.1L1588.1 1436.8Z"/><path d="M1607.2 1422.8L1619.5 1435.1L1607.2 1447.4L1594.9 1435.1Z"/><path d="M1613.8 1422.2L1626.1 1434.5L1613.8 1446.8L1601.5 1434.5Z"/><path d="M1620.2 1420.9L1632.5 1433.2L1620.2 1445.5L1607.9 1433.2Z"/><path d="M1626.5 1417.8L1638.8 1430.1L1626.5 1442.4L1614.2 1430.1Z"/><path d="M1632.6 1418.4L1644.9 1430.7L1632.6 1443L1620.3 1430.7Z"/><path d="M1638.5 1416.9L1650.8 1429.2L1638.5 1441.5L1626.2 1429.2Z"/><path d="M1644.3 1417.5L1656.6 1429.8L1644.3 1442.1L1632 1429.8Z"/><path d="M1650 1417.8L1662.3 1430.1L1650 1442.4L1637.7 1430.1Z"/><path d="M1655.5 1417.8L1667.8 1430.1L1655.5 1442.4L1643.2 1430.1Z"/><path d="M1661 1418.1L1673.3 1430.4L1661 1442.7L1648.7 1430.4Z"/><path d="M1666.3 1419.8L1678.6 1432.1L1666.3 1444.4L1654 1432.1Z"/><path d="M1671.5 1421.1L1683.8 1433.4L1671.5 1445.7L1659.2 1433.4Z"/><path d="M1676.6 1421.7L1688.9 1434L1676.6 1446.3L1664.3 1434Z"/><path d="M1681.6 1425.8L1693.9 1438.1L1681.6 1450.4L1669.3 1438.1Z"/><path d="M1686.5 1428L1698.8 1440.3L1686.5 1452.6L1674.2 1440.3Z"/><path d="M1691.2 1430.4L1703.5 1442.7L1691.2 1455L1678.9 1442.7Z"/><path d="M1695.9 1430.8L1708.2 1443.1L1695.9 1455.4L1683.6 1443.1Z"/><path d="M1700.6 1430.9L1712.9 1443.2L1700.6 1455.5L1688.3 1443.2Z"/><path d="M1705.1 1431.4L1717.4 1443.7L1705.1 1456L1692.8 1443.7Z"/><path d="M1709.5 1429L1721.8 1441.3L1709.5 1453.6L1697.2 1441.3Z"/><path d="M1713.9 1430.1L1726.2 1442.4L1713.9 1454.7L1701.6 1442.4Z"/><path d="M1718.2 1429.3L1730.5 1441.6L1718.2 1453.9L1705.9 1441.6Z"/><path d="M1722.4 1426.8L1734.7 1439.1L1722.4 1451.4L1710.1 1439.1Z"/><path d="M1726.6 1425.1L1738.9 1437.4L1726.6 1449.7L1714.3 1437.4Z"/><path d="M1730.6 1425L1742.9 1437.3L1730.6 1449.6L1718.3 1437.3Z"/><path d="M1734.6 1423.3L1746.9 1435.6L1734.6 1447.9L1722.3 1435.6Z"/><path d="M1738.6 1423L1750.9 1435.3L1738.6 1447.6L1726.3 1435.3Z"/><path d="M1742.5 1423L1754.8 1435.3L1742.5 1447.6L1730.2 1435.3Z"/><path d="M1746.3 1421.6L1758.6 1433.9L1746.3 1446.2L1734 1433.9Z"/><path d="M1750.1 1419.4L1762.4 1431.7L1750.1 1444L1737.8 1431.7Z"/><path d="M1753.8 1419.6L1766.1 1431.9L1753.8 1444.2L1741.5 1431.9Z"/><path d="M1757.4 1418.2L1769.7 1430.5L1757.4 1442.8L1745.1 1430.5Z"/><path d="M1761 1417.2L1773.3 1429.5L1761 1441.8L1748.7 1429.5Z"/><path d="M1764.6 1416.2L1776.9 1428.5L1764.6 1440.8L1752.3 1428.5Z"/><path d="M1768.1 1415.9L1780.4 1428.2L1768.1 1440.5L1755.8 1428.2Z"/><path d="M1771.5 1414L1783.8 1426.3L1771.5 1438.6L1759.2 1426.3Z"/>
</g>
<g fill="#2e3192" stroke="none">
<path d="M533.4 2433.2L544.1 2452.2L522.7 2452.2Z"/><path d="M875.7 2111.9L886.4 2130.9L865 2130.9Z"/><path d="M980.4 2007.5L991.1 2026.5L969.7 2026.5Z"/><path d="M1052.5 1917L1063.2 1936L1041.8 1936Z"/><path d="M1108.5 1870L1119.2 1889L1097.8 1889Z"/><path d="M1154.2 1825.4L1164.9 1844.4L1143.5 1844.4Z"/><path d="M1194 1782.3L1204.7 1801.3L1183.3 1801.3Z"/><path d="M1226 1747.5L1236.7 1766.5L1215.3 1766.5Z"/><path d="M1256 1721.5L1266.7 1740.5L1245.3 1740.5Z"/><path d="M1282 1700.5L1292.7 1719.5L1271.3 1719.5Z"/><path d="M1305 1680.5L1315.7 1699.5L1294.3 1699.5Z"/><path d="M1327 1656.5L1337.7 1675.5L1316.3 1675.5Z"/><path d="M1347 1632.5L1357.7 1651.5L1336.3 1651.5Z"/><path d="M1366.3 1605.2L1377 1624.2L1355.6 1624.2Z"/><path d="M1383.3 1585L1394 1604L1372.6 1604Z"/><path d="M1399.2 1567.9L1409.9 1586.9L1388.5 1586.9Z"/><path d="M1414.1 1552.7L1424.8 1571.7L1403.4 1571.7Z"/><path d="M1428.2 1535.1L1438.9 1554.1L1417.5 1554.1Z"/><path d="M1441.5 1519.4L1452.2 1538.4L1430.8 1538.4Z"/><path d="M1454.1 1507.4L1464.8 1526.4L1443.4 1526.4Z"/><path d="M1466.2 1497.2L1476.9 1516.2L1455.5 1516.2Z"/><path d="M1477.6 1485.8L1488.3 1504.8L1466.9 1504.8Z"/><path d="M1488.6 1477.3L1499.3 1496.3L1477.9 1496.3Z"/><path d="M1499.1 1469.5L1509.8 1488.5L1488.4 1488.5Z"/><path d="M1509.1 1464L1519.8 1483L1498.4 1483Z"/><path d="M1518.8 1455.6L1529.5 1474.6L1508.1 1474.6Z"/><path d="M1528.1 1450.9L1538.8 1469.9L1517.4 1469.9Z"/><path d="M1537 1449.6L1547.7 1468.6L1526.3 1468.6Z"/><path d="M1545.7 1444.9L1556.4 1463.9L1535 1463.9Z"/><path d="M1554 1440.9L1564.7 1459.9L1543.3 1459.9Z"/><path d="M1562.1 1439.9L1572.8 1458.9L1551.4 1458.9Z"/><path d="M1569.9 1437.3L1580.6 1456.3L1559.2 1456.3Z"/><path d="M1577.5 1432.7L1588.2 1451.7L1566.8 1451.7Z"/><path d="M1584.8 1430.8L1595.5 1449.8L1574.1 1449.8Z"/><path d="M1592 1429.9L1602.7 1448.9L1581.3 1448.9Z"/><path d="M1598.9 1426.6L1609.6 1445.6L1588.2 1445.6Z"/><path d="M1605.7 1426.3L1616.4 1445.3L1595 1445.3Z"/><path d="M1612.2 1423.3L1622.9 1442.3L1601.5 1442.3Z"/><path d="M1618.6 1422.2L1629.3 1441.2L1607.9 1441.2Z"/><path d="M1624.9 1420.5L1635.6 1439.5L1614.2 1439.5Z"/><path d="M1630.9 1419.8L1641.6 1438.8L1620.2 1438.8Z"/><path d="M1636.9 1422.4L1647.6 1441.4L1626.2 1441.4Z"/><path d="M1642.7 1421.1L1653.4 1440.1L1632 1440.1Z"/><path d="M1648.3 1423.9L1659 1442.9L1637.6 1442.9Z"/><path d="M1653.9 1423.4L1664.6 1442.4L1643.2 1442.4Z"/><path d="M1659.3 1424.2L1670 1443.2L1648.6 1443.2Z"/><path d="M1664.6 1427L1675.3 1446L1653.9 1446Z"/><path d="M1669.8 1428.6L1680.5 1447.6L1659.1 1447.6Z"/><path d="M1674.8 1427.8L1685.5 1446.8L1664.1 1446.8Z"/><path d="M1679.8 1430.3L1690.5 1449.3L1669.1 1449.3Z"/><path d="M1684.7 1432.1L1695.4 1451.1L1674 1451.1Z"/><path d="M1689.5 1431.5L1700.2 1450.5L1678.8 1450.5Z"/><path d="M1694.2 1431.3L1704.9 1450.3L1683.5 1450.3Z"/><path d="M1698.8 1435L1709.5 1454L1688.1 1454Z"/><path d="M1703.3 1435.3L1714 1454.3L1692.6 1454.3Z"/><path d="M1707.7 1433.9L1718.4 1452.9L1697 1452.9Z"/><path d="M1712.1 1434.2L1722.8 1453.2L1701.4 1453.2Z"/><path d="M1716.4 1433.4L1727.1 1452.4L1705.7 1452.4Z"/><path d="M1720.6 1434.5L1731.3 1453.5L1709.9 1453.5Z"/><path d="M1724.7 1433.1L1735.4 1452.1L1714 1452.1Z"/><path d="M1728.8 1430.1L1739.5 1449.1L1718.1 1449.1Z"/><path d="M1732.8 1431.1L1743.5 1450.1L1722.1 1450.1Z"/><path d="M1736.7 1428.2L1747.4 1447.2L1726 1447.2Z"/><path d="M1740.6 1427.1L1751.3 1446.1L1729.9 1446.1Z"/><path d="M1744.4 1425L1755.1 1444L1733.7 1444Z"/><path d="M1748.2 1426.5L1758.9 1445.5L1737.5 1445.5Z"/><path d="M1751.9 1424.3L1762.6 1443.3L1741.2 1443.3Z"/><path d="M1755.5 1424.7L1766.2 1443.7L1744.8 1443.7Z"/><path d="M1759.1 1422.7L1769.8 1441.7L1748.4 1441.7Z"/><path d="M1762.7 1423L1773.4 1442L1752 1442Z"/><path d="M1766.2 1423.7L1776.9 1442.7L1755.5 1442.7Z"/><path d="M1769.6 1422.7L1780.3 1441.7L1758.9 1441.7Z"/><path d="M1773 1421.4L1783.7 1440.4L1762.3 1440.4Z"/>
</g>
<g fill="#2e3192" stroke="none">
<path d="M690.2 2283.3L700.9 2264.3L679.5 2264.3Z"/><path d="M871.5 2108.5L882.2 2089.5L860.8 2089.5Z"/><path d="M978.7 2057.1L989.4 2038.1L968 2038.1Z"/><path d="M1051.7 1937.3L1062.4 1918.3L1041 1918.3Z"/><path d="M1108.5 1875.5L1119.2 1856.5L1097.8 1856.5Z"/><path d="M1154.2 1845.5L1164.9 1826.5L1143.5 1826.5Z"/><path d="M1194 1801.5L1204.7 1782.5L1183.3 1782.5Z"/><path d="M1226 1767.5L1236.7 1748.5L1215.3 1748.5Z"/><path d="M1254.7 1735.8L1265.4 1716.8L1244 1716.8Z"/><path d="M1280.4 1735.8L1291.1 1716.8L1269.7 1716.8Z"/><path d="M1304 1704.5L1314.7 1685.5L1293.3 1685.5Z"/><path d="M1326 1680.5L1336.7 1661.5L1315.3 1661.5Z"/><path d="M1346 1658.5L1356.7 1639.5L1335.3 1639.5Z"/><path d="M1366.1 1635.6L1376.8 1616.6L1355.4 1616.6Z"/><path d="M1382.9 1610.8L1393.6 1591.8L1372.2 1591.8Z"/><path d="M1398.7 1594.7L1409.4 1575.7L1388 1575.7Z"/><path d="M1413.5 1576.4L1424.2 1557.4L1402.8 1557.4Z"/><path d="M1427.5 1563.7L1438.2 1544.7L1416.8 1544.7Z"/><path d="M1440.8 1546.4L1451.5 1527.4L1430.1 1527.4Z"/><path d="M1453.3 1535L1464 1516L1442.6 1516Z"/><path d="M1465.3 1524.8L1476 1505.8L1454.6 1505.8Z"/><path d="M1476.7 1515.6L1487.4 1496.6L1466 1496.6Z"/><path d="M1487.5 1507.1L1498.2 1488.1L1476.8 1488.1Z"/><path d="M1498 1497.4L1508.7 1478.4L1487.3 1478.4Z"/><path d="M1508 1489.7L1518.7 1470.7L1497.3 1470.7Z"/><path d="M1517.6 1484.4L1528.3 1465.4L1506.9 1465.4Z"/><path d="M1526.8 1479.1L1537.5 1460.1L1516.1 1460.1Z"/><path d="M1535.8 1474.5L1546.5 1455.5L1525.1 1455.5Z"/><path d="M1544.4 1470.3L1555.1 1451.3L1533.7 1451.3Z"/><path d="M1552.7 1469.6L1563.4 1450.6L1542 1450.6Z"/><path d="M1560.7 1468L1571.4 1449L1550 1449Z"/><path d="M1568.5 1465.6L1579.2 1446.6L1557.8 1446.6Z"/><path d="M1576.1 1460.6L1586.8 1441.6L1565.4 1441.6Z"/><path d="M1583.4 1459.8L1594.1 1440.8L1572.7 1440.8Z"/><path d="M1590.5 1457.1L1601.2 1438.1L1579.8 1438.1Z"/><path d="M1597.4 1453.9L1608.1 1434.9L1586.7 1434.9Z"/><path d="M1604.1 1452.6L1614.8 1433.6L1593.4 1433.6Z"/><path d="M1610.7 1451.1L1621.4 1432.1L1600 1432.1Z"/><path d="M1617 1448.3L1627.7 1429.3L1606.3 1429.3Z"/><path d="M1623.3 1448.9L1634 1429.9L1612.6 1429.9Z"/><path d="M1629.3 1448L1640 1429L1618.6 1429Z"/><path d="M1635.2 1448.1L1645.9 1429.1L1624.5 1429.1Z"/><path d="M1641 1449.3L1651.7 1430.3L1630.3 1430.3Z"/><path d="M1646.7 1449.6L1657.4 1430.6L1636 1430.6Z"/><path d="M1652.2 1449.2L1662.9 1430.2L1641.5 1430.2Z"/><path d="M1657.6 1451.4L1668.3 1432.4L1646.9 1432.4Z"/><path d="M1662.9 1453.9L1673.6 1434.9L1652.2 1434.9Z"/><path d="M1668 1454.2L1678.7 1435.2L1657.3 1435.2Z"/><path d="M1673.1 1457L1683.8 1438L1662.4 1438Z"/><path d="M1678.1 1455.4L1688.8 1436.4L1667.4 1436.4Z"/><path d="M1682.9 1455.8L1693.6 1436.8L1672.2 1436.8Z"/><path d="M1687.7 1456.4L1698.4 1437.4L1677 1437.4Z"/><path d="M1692.4 1460.4L1703.1 1441.4L1681.7 1441.4Z"/><path d="M1697 1461.8L1707.7 1442.8L1686.3 1442.8Z"/><path d="M1701.5 1463L1712.2 1444L1690.8 1444Z"/><path d="M1705.9 1461.3L1716.6 1442.3L1695.2 1442.3Z"/><path d="M1710.2 1461.4L1720.9 1442.4L1699.5 1442.4Z"/><path d="M1714.5 1463.1L1725.2 1444.1L1703.8 1444.1Z"/><path d="M1718.7 1460.1L1729.4 1441.1L1708 1441.1Z"/><path d="M1722.8 1457.8L1733.5 1438.8L1712.1 1438.8Z"/><path d="M1726.9 1455.8L1737.6 1436.8L1716.2 1436.8Z"/><path d="M1730.9 1456L1741.6 1437L1720.2 1437Z"/><path d="M1734.8 1457.2L1745.5 1438.2L1724.1 1438.2Z"/><path d="M1738.7 1456.2L1749.4 1437.2L1728 1437.2Z"/><path d="M1742.5 1454.6L1753.2 1435.6L1731.8 1435.6Z"/><path d="M1746.3 1453.8L1757 1434.8L1735.6 1434.8Z"/><path d="M1750 1451.6L1760.7 1432.6L1739.3 1432.6Z"/><path d="M1753.6 1453.5L1764.3 1434.5L1742.9 1434.5Z"/><path d="M1757.2 1451.6L1767.9 1432.6L1746.5 1432.6Z"/><path d="M1760.7 1449.9L1771.4 1430.9L1750 1430.9Z"/><path d="M1764.2 1449L1774.9 1430L1753.5 1430Z"/><path d="M1767.7 1450.2L1778.4 1431.2L1757 1431.2Z"/><path d="M1771 1448.1L1781.7 1429.1L1760.3 1429.1Z"/>
</g>
</g>
<g stroke="#231f20" stroke-width="2.1" fill="none">
<line x1="352" y1="1067" x2="1559.5" y2="167.6"/>
<line x1="427.3" y1="1258.6" x2="1627.4" y2="142"/>
<line x1="527" y1="2446.4" x2="1525.5" y2="1464.3"/>
<line x1="547.9" y1="2552.4" x2="1613.8" y2="1462.1"/>
</g>
<g stroke="#231f20" fill="none" stroke-linecap="round">
<path stroke-width="4.9" d="M481.6 48.4v15.2M481.6 1307.2v32.4M481.6 2598.5v-15.2M581.4 48.4v15.2M581.4 1307.2v32.4M581.4 2598.5v-15.2M652.3 48.4v15.2M652.3 1307.2v32.4M652.3 2598.5v-15.2M707.2 48.4v15.2M707.2 1307.2v32.4M707.2 2598.5v-15.2M752.1 48.4v15.2M752.1 1307.2v32.4M752.1 2598.5v-15.2M790 48.4v15.2M790 1307.2v32.4M790 2598.5v-15.2M822.9 48.4v15.2M822.9 1307.2v32.4M822.9 2598.5v-15.2M851.9 48.4v15.2M851.9 1307.2v32.4M851.9 2598.5v-15.2M877.8 48.4v22.8M877.8 1299.6v47.6M877.8 2598.5v-22.8M1048.5 48.4v15.2M1048.5 1307.2v32.4M1048.5 2598.5v-15.2M1148.3 48.4v15.2M1148.3 1307.2v32.4M1148.3 2598.5v-15.2M1219.1 48.4v15.2M1219.1 1307.2v32.4M1219.1 2598.5v-15.2M1274 48.4v15.2M1274 1307.2v32.4M1274 2598.5v-15.2M1318.9 48.4v15.2M1318.9 1307.2v32.4M1318.9 2598.5v-15.2M1356.9 48.4v15.2M1356.9 1307.2v32.4M1356.9 2598.5v-15.2M1389.7 48.4v15.2M1389.7 1307.2v32.4M1389.7 2598.5v-15.2M1418.7 48.4v15.2M1418.7 1307.2v32.4M1418.7 2598.5v-15.2M1444.7 48.4v22.8M1444.7 1299.6v47.6M1444.7 2598.5v-22.8M1615.3 48.4v15.2M1615.3 1307.2v32.4M1615.3 2598.5v-15.2M1715.1 48.4v15.2M1715.1 1307.2v32.4M1715.1 2598.5v-15.2M1785.9 48.4v15.2M1785.9 1307.2v32.4M1785.9 2598.5v-15.2M1840.9 48.4v15.2M1840.9 1307.2v32.4M1840.9 2598.5v-15.2M1885.7 48.4v15.2M1885.7 1307.2v32.4M1885.7 2598.5v-15.2M1923.7 48.4v15.2M1923.7 1307.2v32.4M1923.7 2598.5v-15.2M1956.6 48.4v15.2M1956.6 1307.2v32.4M1956.6 2598.5v-15.2M1985.6 48.4v15.2M1985.6 1307.2v32.4M1985.6 2598.5v-15.2M312 302.6h22.8M2010.5 302.6h-22.8M312 225.8h15.2M2010.5 225.8h-15.2M312 180.8h15.2M2010.5 180.8h-15.2M312 149h15.2M2010.5 149h-15.2M312 124.2h15.2M2010.5 124.2h-15.2M312 104h15.2M2010.5 104h-15.2M312 86.9h15.2M2010.5 86.9h-15.2M312 72.1h15.2M2010.5 72.1h-15.2M312 59.1h15.2M2010.5 59.1h-15.2M312 557.8h22.8M2010.5 557.8h-22.8M312 481h15.2M2010.5 481h-15.2M312 436h15.2M2010.5 436h-15.2M312 404.2h15.2M2010.5 404.2h-15.2M312 379.4h15.2M2010.5 379.4h-15.2M312 359.2h15.2M2010.5 359.2h-15.2M312 342.1h15.2M2010.5 342.1h-15.2M312 327.3h15.2M2010.5 327.3h-15.2M312 314.3h15.2M2010.5 314.3h-15.2M312 813h22.8M2010.5 813h-22.8M312 736.2h15.2M2010.5 736.2h-15.2M312 691.2h15.2M2010.5 691.2h-15.2M312 659.4h15.2M2010.5 659.4h-15.2M312 634.6h15.2M2010.5 634.6h-15.2M312 614.4h15.2M2010.5 614.4h-15.2M312 597.3h15.2M2010.5 597.3h-15.2M312 582.5h15.2M2010.5 582.5h-15.2M312 569.5h15.2M2010.5 569.5h-15.2M312 1068.2h22.8M2010.5 1068.2h-22.8M312 991.4h15.2M2010.5 991.4h-15.2M312 946.4h15.2M2010.5 946.4h-15.2M312 914.6h15.2M2010.5 914.6h-15.2M312 889.8h15.2M2010.5 889.8h-15.2M312 869.6h15.2M2010.5 869.6h-15.2M312 852.5h15.2M2010.5 852.5h-15.2M312 837.7h15.2M2010.5 837.7h-15.2M312 824.7h15.2M2010.5 824.7h-15.2M312 1246.6h15.2M2010.5 1246.6h-15.2M312 1201.6h15.2M2010.5 1201.6h-15.2M312 1169.8h15.2M2010.5 1169.8h-15.2M312 1145h15.2M2010.5 1145h-15.2M312 1124.8h15.2M2010.5 1124.8h-15.2M312 1107.7h15.2M2010.5 1107.7h-15.2M312 1092.9h15.2M2010.5 1092.9h-15.2M312 1079.9h15.2M2010.5 1079.9h-15.2M312 1578.6h22.8M2010.5 1578.6h-22.8M312 1501.8h15.2M2010.5 1501.8h-15.2M312 1456.8h15.2M2010.5 1456.8h-15.2M312 1425h15.2M2010.5 1425h-15.2M312 1400.2h15.2M2010.5 1400.2h-15.2M312 1380h15.2M2010.5 1380h-15.2M312 1362.9h15.2M2010.5 1362.9h-15.2M312 1348.1h15.2M2010.5 1348.1h-15.2M312 1335.1h15.2M2010.5 1335.1h-15.2M312 1833.8h22.8M2010.5 1833.8h-22.8M312 1757h15.2M2010.5 1757h-15.2M312 1712h15.2M2010.5 1712h-15.2M312 1680.2h15.2M2010.5 1680.2h-15.2M312 1655.4h15.2M2010.5 1655.4h-15.2M312 1635.2h15.2M2010.5 1635.2h-15.2M312 1618.1h15.2M2010.5 1618.1h-15.2M312 1603.3h15.2M2010.5 1603.3h-15.2M312 1590.3h15.2M2010.5 1590.3h-15.2M312 2089h22.8M2010.5 2089h-22.8M312 2012.2h15.2M2010.5 2012.2h-15.2M312 1967.2h15.2M2010.5 1967.2h-15.2M312 1935.4h15.2M2010.5 1935.4h-15.2M312 1910.6h15.2M2010.5 1910.6h-15.2M312 1890.4h15.2M2010.5 1890.4h-15.2M312 1873.3h15.2M2010.5 1873.3h-15.2M312 1858.5h15.2M2010.5 1858.5h-15.2M312 1845.5h15.2M2010.5 1845.5h-15.2M312 2344.2h22.8M2010.5 2344.2h-22.8M312 2267.4h15.2M2010.5 2267.4h-15.2M312 2222.4h15.2M2010.5 2222.4h-15.2M312 2190.6h15.2M2010.5 2190.6h-15.2M312 2165.8h15.2M2010.5 2165.8h-15.2M312 2145.6h15.2M2010.5 2145.6h-15.2M312 2128.5h15.2M2010.5 2128.5h-15.2M312 2113.7h15.2M2010.5 2113.7h-15.2M312 2100.7h15.2M2010.5 2100.7h-15.2M312 2522.6h15.2M2010.5 2522.6h-15.2M312 2477.6h15.2M2010.5 2477.6h-15.2M312 2445.8h15.2M2010.5 2445.8h-15.2M312 2421h15.2M2010.5 2421h-15.2M312 2400.8h15.2M2010.5 2400.8h-15.2M312 2383.7h15.2M2010.5 2383.7h-15.2M312 2368.9h15.2M2010.5 2368.9h-15.2M312 2355.9h15.2M2010.5 2355.9h-15.2"/>
</g>
<g stroke="#231f20" fill="none" stroke-width="5" stroke-linejoin="miter">
<rect x="311" y="47.4" width="1700.5" height="2552.1"/>
<line x1="311" y1="1323.4" x2="2011.5" y2="1323.4"/>
<line x1="311.1" y1="44.9" x2="311.1" y2="2602" stroke-width="6"/>
</g>
<text><tspan x="186.1 217.8" y="68.5" font-size="57" stroke-width="0.68">10</tspan><tspan x="247.6" y="50.0" font-size="37.5" stroke-width="0.75">2</tspan></text>
<text><tspan x="186.1 217.8" y="323.7" font-size="57" stroke-width="0.68">10</tspan><tspan x="247.4" y="305.2" font-size="37.5" stroke-width="0.75">1</tspan></text>
<text><tspan x="186.1 217.8" y="578.9" font-size="57" stroke-width="0.68">10</tspan><tspan x="248.5" y="560.4" font-size="37.5" stroke-width="0.75">0</tspan></text>
<text><tspan x="186.1 217.8" y="834.1" font-size="57" stroke-width="0.68">10</tspan><tspan x="248.0 260.0" y="815.6" font-size="37.5" stroke-width="0.75">-1</tspan></text>
<text><tspan x="186.1 217.8" y="1089.3" font-size="57" stroke-width="0.68">10</tspan><tspan x="248.0 259.9" y="1070.8" font-size="37.5" stroke-width="0.75">-2</tspan></text>
<text><tspan x="186.1 217.8" y="1344.5" font-size="57" stroke-width="0.68">10</tspan><tspan x="248.4 260.4" y="1326.0" font-size="37.5" stroke-width="0.75">-3</tspan></text>
<text><tspan x="186.1 217.8" y="1599.7" font-size="57" stroke-width="0.68">10</tspan><tspan x="247.4" y="1581.2" font-size="37.5" stroke-width="0.75">1</tspan></text>
<text><tspan x="186.1 217.8" y="1854.9" font-size="57" stroke-width="0.68">10</tspan><tspan x="248.5" y="1836.4" font-size="37.5" stroke-width="0.75">0</tspan></text>
<text><tspan x="186.1 217.8" y="2110.1" font-size="57" stroke-width="0.68">10</tspan><tspan x="248.0 260.0" y="2091.6" font-size="37.5" stroke-width="0.75">-1</tspan></text>
<text><tspan x="186.1 217.8" y="2365.3" font-size="57" stroke-width="0.68">10</tspan><tspan x="248.0 259.9" y="2346.8" font-size="37.5" stroke-width="0.75">-2</tspan></text>
<text><tspan x="186.1 217.8" y="2620.6" font-size="57" stroke-width="0.68">10</tspan><tspan x="248.4 260.4" y="2602.1" font-size="37.5" stroke-width="0.75">-3</tspan></text>
<text><tspan x="262.6 294.2" y="2684.9" font-size="57" stroke-width="0.68">10</tspan><tspan x="324.5 336.4" y="2666.4" font-size="37.5" stroke-width="0.75">-2</tspan></text>
<text><tspan x="829.4 861.1" y="2684.9" font-size="57" stroke-width="0.68">10</tspan><tspan x="891.3 903.3" y="2666.4" font-size="37.5" stroke-width="0.75">-1</tspan></text>
<text><tspan x="1402.9 1434.5" y="2684.9" font-size="57" stroke-width="0.68">10</tspan><tspan x="1465.3" y="2666.4" font-size="37.5" stroke-width="0.75">0</tspan></text>
<text><tspan x="1969.7 2001.3" y="2684.9" font-size="57" stroke-width="0.68">10</tspan><tspan x="2031.0" y="2666.4" font-size="37.5" stroke-width="0.75">1</tspan></text>
<text x="502.9 541.2 558.1 593.1 616.3 687.6 733.3" y="291.3" font-size="70" stroke-width="0.84">0.1 MPa</text>
<text x="494.0 532.7 570.5 605.5 628.1" y="1603.2" font-size="70" stroke-width="0.84">160 K</text>
<g transform="translate(91,1357) rotate(-90)"><text x="-0.4 64.1 91.5 145.8 171.1 196.0 222.7 263.9 283.6 330.4 350.6" y="0.0" font-size="76" stroke-width="0.91">G(E) (a.u.)</text></g>
<text><tspan x="1048.3 1066.0 1121.6 1145.2" y="2762.0" font-size="76" stroke-width="0.91">|E/E</tspan><tspan x="1199.4" y="2788.4" font-size="52" stroke-width="0.62">C</tspan><tspan x="1238.6" y="2762.0" font-size="76" stroke-width="0.91">|</tspan></text>
<g fill="none" stroke="#17095b" stroke-width="3.6"><circle cx="1425.8" cy="811.1" r="8.9"/></g>
<g fill="none" stroke="#17095b" stroke-width="3.4"><rect x="1418.1" y="867.7" width="15.4" height="15.4"/></g>
<g fill="none" stroke="#2e3192" stroke-width="3.2"><path d="M1425.8 929L1436.1 939.3L1425.8 949.6L1415.5 939.3Z"/></g>
<g fill="none" stroke="#2e3192" stroke-width="3.1"><rect x="1417.8" y="995.3" width="15.9" height="15.9"/></g>
<g fill="none" stroke="#2e3192" stroke-width="3.1"><circle cx="1425.8" cy="1067" r="9.2"/></g>
<text x="1513.2 1539.5 1565.9 1590.4 1605.2 1643.3 1659.2 1676.2 1710.9 1749.2 1783.2" y="829.9" font-size="49" stroke-width="0.59">200 K (LDL)</text>
<text x="1513.2 1539.8 1565.9" y="893.9" font-size="49" stroke-width="0.59">220</text>
<g transform="translate(1735.3,861.5) scale(1,1.28)"><text x="-15.6" y="36.7" font-size="56" stroke-width="1.2">&quot;</text></g>
<text x="1513.2 1538.7 1565.9" y="957.9" font-size="49" stroke-width="0.59">240</text>
<text x="1670.6 1688.0 1728.2 1765.4 1799.8 1830.7 1865.6 1903.1 1936.7" y="957.9" font-size="49" stroke-width="0.59">(HDL+LDL)</text>
<text x="1513.2 1539.4 1565.9" y="1021.9" font-size="49" stroke-width="0.59">260</text>
<g transform="translate(1812.9,990.5) scale(1,1.28)"><text x="-15.6" y="36.7" font-size="56" stroke-width="1.2">&quot;</text></g>
<text x="1513.2 1539.5 1565.9" y="1085.9" font-size="49" stroke-width="0.59">280</text>
<g transform="translate(1812.9,1053) scale(1,1.28)"><text x="-15.6" y="36.7" font-size="56" stroke-width="1.2">&quot;</text></g>
<g fill="none" stroke="#17095b" stroke-width="3.6"><circle cx="1413.5" cy="2119.4" r="8.9"/></g>
<g fill="none" stroke="#17095b" stroke-width="3.4"><rect x="1405.8" y="2176.3" width="15.4" height="15.4"/></g>
<g fill="#2e3192"><path d="M1413.5 2235.5L1425.8 2247.8L1413.5 2260.1L1401.2 2247.8Z"/></g>
<g fill="#2e3192"><path d="M1413.5 2299.9L1424.2 2318.9L1402.8 2318.9Z"/></g>
<g fill="#2e3192"><path d="M1413.5 2388.3L1424.2 2369.3L1402.8 2369.3Z"/></g>
<text x="1501.2 1528.2 1553.8 1578.3 1594.2 1643.0 1674.2 1698.7 1712.8 1730.5 1764.9 1802.8 1837.5" y="2138.4" font-size="49" stroke-width="0.59">100 MPa (LDL)</text>
<text x="1501.0 1528.2 1553.8" y="2202.5" font-size="49" stroke-width="0.59">200</text>
<g transform="translate(1787.6,2171) scale(1,1.28)"><text x="-15.6" y="36.7" font-size="56" stroke-width="1.2">&quot;</text></g>
<text x="1500.6 1528.2 1553.8" y="2266.5" font-size="49" stroke-width="0.59">300</text>
<text x="1723.1 1740.8 1781.9 1818.6 1852.9" y="2266.5" font-size="49" stroke-width="0.59">(HDL)</text>
<text x="1500.9 1528.2 1553.8" y="2330.6" font-size="49" stroke-width="0.59">400</text>
<g transform="translate(1800,2298.7) scale(1,1.28)"><text x="-15.6" y="36.7" font-size="56" stroke-width="1.2">&quot;</text></g>
<text x="1500.9 1527.3 1553.8" y="2394.6" font-size="49" stroke-width="0.59">470</text>
<g transform="translate(1800,2362.8) scale(1,1.28)"><text x="-15.6" y="36.7" font-size="56" stroke-width="1.2">&quot;</text></g>
</svg></body></html>
